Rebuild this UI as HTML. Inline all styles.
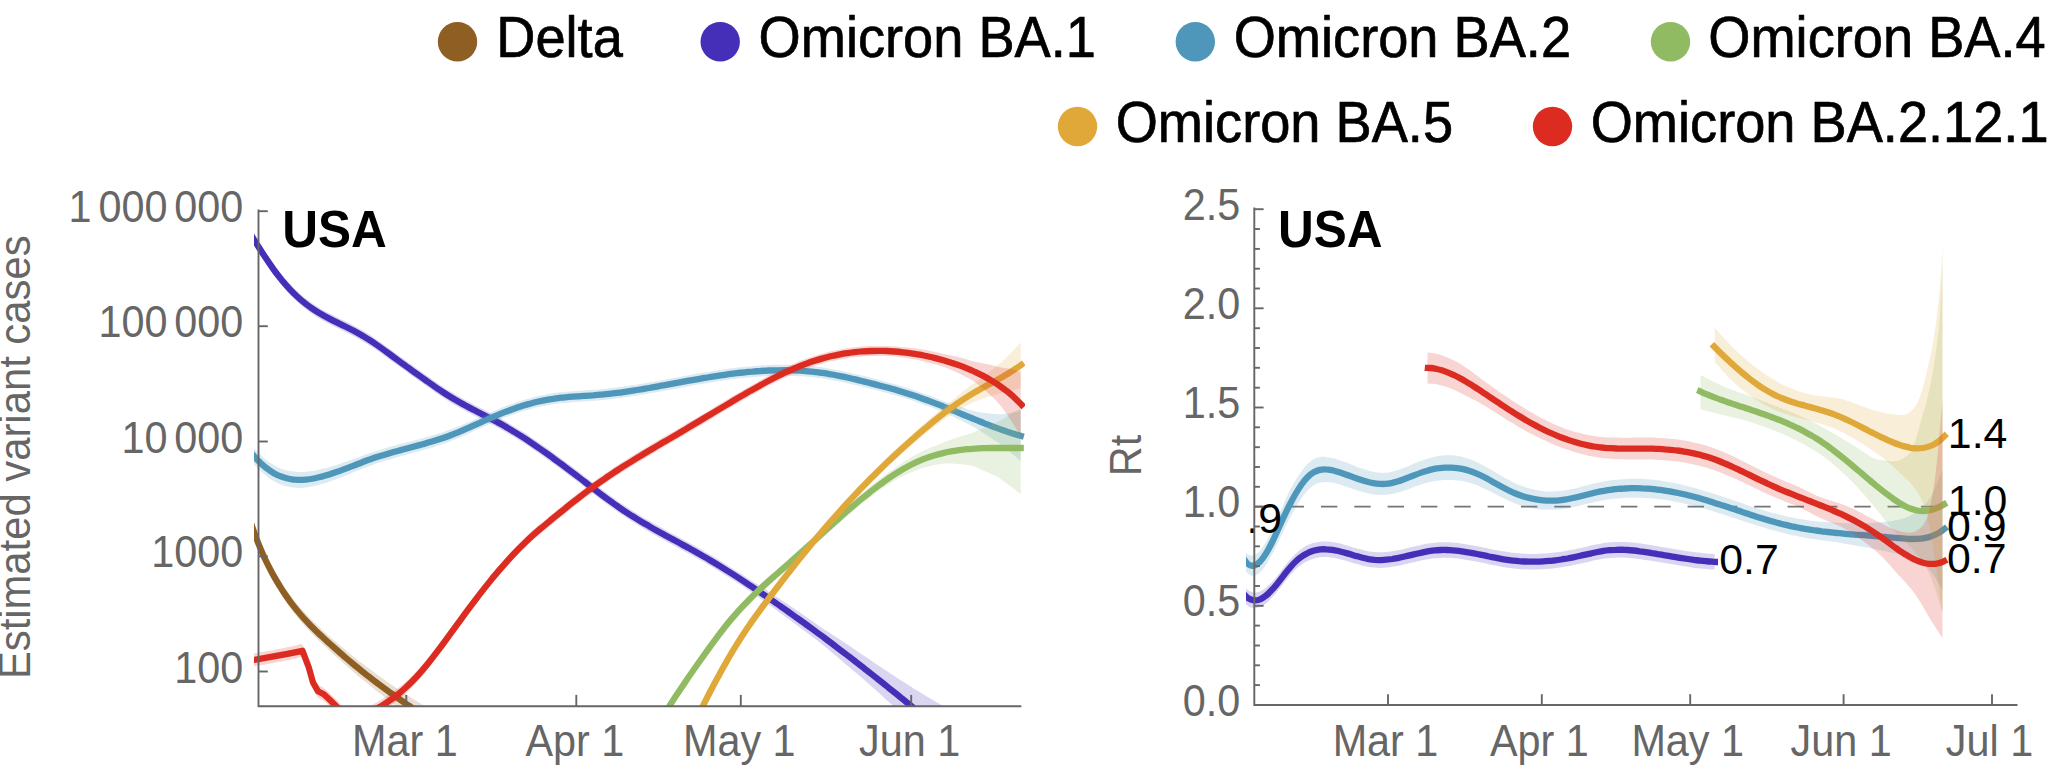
<!DOCTYPE html>
<html lang="en"><head><meta charset="utf-8"><title>Estimated variant cases and Rt - USA</title>
<style>html,body{margin:0;padding:0;background:#fff}body{width:2064px;height:779px;overflow:hidden}svg{display:block}text{font-family:'Liberation Sans', Arial, Helvetica, sans-serif}</style></head><body>
<svg width="2064" height="779" viewBox="0 0 2064 779">
<rect width="2064" height="779" fill="#fff"/>
<defs>
<clipPath id="cl"><rect x="254" y="196" width="771" height="511"/></clipPath>
<clipPath id="cr"><rect x="1246" y="196" width="800" height="509.5"/></clipPath>
</defs>
<g id="legend" fill="#000" stroke="#000" stroke-width="0.7" stroke-linejoin="round">
<circle cx="457.5" cy="41.7" r="19.7" fill="#8f5e22" stroke="none"/>
<text transform="translate(496.3 57.2) scale(0.951 1)" font-size="57">Delta</text>
<circle cx="720.2" cy="41.7" r="19.7" fill="#452fb9" stroke="none"/>
<text transform="translate(758.6 57.2) scale(0.951 1)" font-size="57">Omicron BA.1</text>
<circle cx="1195.3" cy="41.7" r="19.7" fill="#4f97ba" stroke="none"/>
<text transform="translate(1233.7 57.2) scale(0.951 1)" font-size="57">Omicron BA.2</text>
<circle cx="1670.5" cy="41.7" r="19.7" fill="#91bb62" stroke="none"/>
<text transform="translate(1708.3 57.2) scale(0.951 1)" font-size="57">Omicron BA.4</text>
<circle cx="1077.5" cy="126.5" r="19.7" fill="#e0a839" stroke="none"/>
<text transform="translate(1115.7 142) scale(0.951 1)" font-size="57">Omicron BA.5</text>
<circle cx="1552.5" cy="126.5" r="19.7" fill="#dc2c22" stroke="none"/>
<text transform="translate(1590.7 142) scale(0.951 1)" font-size="57">Omicron BA.2.12.1</text>
</g>
<g id="left-curves" clip-path="url(#cl)" fill="none" stroke-linejoin="round">
<path d="M250 514.2C251.3 517.9 255.3 529.5 258 536.2C260.7 543 263.3 549 266 554.6C268.7 560.2 271.3 565.3 274 570C276.7 574.8 279.3 579 282 583.1C284.7 587.3 287.3 591.1 290 594.7C292.7 598.3 295.3 601.7 298 604.9C300.7 608.1 303.3 611 306 613.9C308.7 616.8 311.3 619.4 314 622.1C316.7 624.7 319.3 627.2 322 629.7C324.7 632.1 327.3 634.6 330 636.9C332.7 639.3 335.3 641.5 338 643.8C340.7 646.1 343.3 648.3 346 650.5C348.7 652.7 351.3 654.8 354 656.9C356.7 659.1 359.3 661.2 362 663.2C364.7 665.3 367.3 667.3 370 669.3C372.7 671.3 375.3 673.3 378 675.2C380.7 677.1 383.3 679 386 680.9C388.7 682.8 391.3 684.6 394 686.4C396.7 688.2 399.3 690 402 691.8C404.7 693.6 407.3 695.3 410 697C412.7 698.7 415.3 700.4 418 702C420.7 703.7 424.3 705.9 426 706.9C427.7 707.9 427.7 707.9 428 708.1L428 728C427.7 727.8 427.7 727.8 426 726.7C424.3 725.6 420.7 723.1 418 721.3C415.3 719.5 412.7 717.7 410 715.8C407.3 713.9 404.7 712 402 710.1C399.3 708.2 396.7 706.2 394 704.3C391.3 702.3 388.7 700.3 386 698.3C383.3 696.2 380.7 694.2 378 692.1C375.3 690 372.7 687.9 370 685.7C367.3 683.5 364.7 681.4 362 679.1C359.3 676.9 356.7 674.7 354 672.4C351.3 670.1 348.7 667.8 346 665.4C343.3 663.1 340.7 660.7 338 658.3C335.3 655.9 332.7 653.4 330 650.9C327.3 648.4 324.7 646 322 643.5C319.3 640.9 316.7 638.4 314 635.7C311.3 633 308.7 630.2 306 627.3C303.3 624.4 300.7 621.4 298 618.1C295.3 614.8 292.7 611.4 290 607.7C287.3 604 284.7 600.1 282 595.9C279.3 591.8 276.7 587.5 274 582.6C271.3 577.8 268.7 572.7 266 567C263.3 561.3 260.7 555.2 258 548.4C255.3 541.6 251.3 529.9 250 526.2Z" fill="#8f5e22" fill-opacity="0.2" stroke="none"/>
<path d="M250 520.2C251 523.1 254 531.9 255.9 537.2C257.9 542.5 259.9 547.3 261.9 551.9C263.8 556.5 265.8 560.7 267.8 564.7C269.8 568.7 271.8 572.3 273.7 575.9C275.7 579.4 277.7 582.8 279.7 586C281.6 589.2 283.6 592.2 285.6 595.1C287.6 598 289.6 600.7 291.5 603.4C293.5 606 295.5 608.5 297.5 610.9C299.4 613.3 301.4 615.6 303.4 617.8C305.4 620 307.4 622.1 309.3 624.2C311.3 626.2 313.3 628.2 315.3 630.2C317.2 632.1 319.2 634 321.2 635.8C323.2 637.7 325.2 639.5 327.1 641.3C329.1 643.1 331.1 644.9 333.1 646.7C335 648.4 337 650.2 339 651.9C341 653.7 343 655.4 344.9 657.1C346.9 658.7 348.9 660.4 350.9 662.1C352.8 663.7 354.8 665.4 356.8 667C358.8 668.6 360.8 670.2 362.7 671.8C364.7 673.4 366.7 674.9 368.7 676.5C370.6 678 372.6 679.5 374.6 681.1C376.6 682.6 378.6 684.1 380.5 685.5C382.5 687 384.5 688.5 386.5 689.9C388.4 691.4 390.4 692.8 392.4 694.2C394.4 695.6 396.4 697 398.3 698.4C400.3 699.8 402.3 701.2 404.3 702.5C406.2 703.9 408.2 705.2 410.2 706.5C412.2 707.9 414.2 709.2 416.1 710.5C418.1 711.8 420.1 713 422.1 714.3C424 715.6 427 717.4 428 718.1" stroke="#8f5e22" stroke-width="6.3"/>
<path d="M250 227.9C251.3 230 255.3 236.6 258 240.8C260.7 245 263.3 249.2 266 253.2C268.7 257.2 271.3 261.1 274 264.7C276.7 268.3 279.3 271.8 282 275C284.7 278.3 287.3 281.3 290 284.1C292.7 287 295.3 289.6 298 292C300.7 294.5 303.3 296.7 306 298.8C308.7 300.8 311.3 302.7 314 304.5C316.7 306.2 319.3 307.8 322 309.4C324.7 310.9 327.3 312.3 330 313.7C332.7 315.1 335.3 316.4 338 317.8C340.7 319.1 343.3 320.4 346 321.7C348.7 323 351.3 324.3 354 325.7C356.7 327.2 359.3 328.6 362 330.2C364.7 331.7 367.3 333.4 370 335.1C372.7 336.8 375.3 338.7 378 340.5C380.7 342.4 383.3 344.3 386 346.2C388.7 348.2 391.3 350.1 394 352.1C396.7 354.1 399.3 356 402 358C404.7 359.9 407.3 361.8 410 363.8C412.7 365.7 415.3 367.6 418 369.5C420.7 371.4 423.3 373.3 426 375.1C428.7 377 431.3 378.9 434 380.8C436.7 382.6 439.3 384.4 442 386.2C444.7 388 447.3 389.7 450 391.3C452.7 393 455.3 394.6 458 396.1C460.7 397.6 463.3 399.1 466 400.5C468.7 401.9 471.3 403.3 474 404.7C476.7 406.1 479.3 407.4 482 408.8C484.7 410.1 487.3 411.5 490 412.9C492.7 414.3 495.3 415.7 498 417.1C500.7 418.6 503.3 420.1 506 421.6C508.7 423.1 511.3 424.7 514 426.4C516.7 428 519.3 429.6 522 431.3C524.7 433 527.3 434.8 530 436.6C532.7 438.3 535.3 440.1 538 442C540.7 443.8 543.3 445.7 546 447.6C548.7 449.5 551.3 451.4 554 453.3C556.7 455.3 559.3 457.2 562 459.2C564.7 461.2 567.3 463.2 570 465.2C572.7 467.2 575.3 469.2 578 471.3C580.7 473.3 583.3 475.4 586 477.4C588.7 479.4 591.3 481.5 594 483.5C596.7 485.6 599.3 487.6 602 489.6C604.7 491.6 607.3 493.5 610 495.5C612.7 497.4 615.3 499.3 618 501.2C620.7 503 623.3 504.9 626 506.6C628.7 508.4 631.3 510.1 634 511.8C636.7 513.4 639.3 515.1 642 516.7C644.7 518.3 647.3 519.8 650 521.3C652.7 522.9 655.3 524.4 658 525.8C660.7 527.3 663.3 528.8 666 530.2C668.7 531.7 671.3 533.1 674 534.6C676.7 536 679.3 537.5 682 538.9C684.7 540.4 687.3 541.8 690 543.3C692.7 544.8 695.3 546.3 698 547.8C700.7 549.3 703.3 550.8 706 552.4C708.7 553.9 711.3 555.5 714 557.1C716.7 558.7 719.3 560.4 722 562C724.7 563.7 727.3 565.3 730 567C732.7 568.7 735.3 570.4 738 572.1C740.7 573.8 743.3 575.5 746 577.2C748.7 578.8 751.3 580.5 754 582.2C756.7 583.9 759.3 585.6 762 587.3C764.7 589 767.3 590.8 770 592.5C772.7 594.3 775.3 596 778 597.8C780.7 599.6 783.3 601.4 786 603.1C788.7 604.9 791.3 606.7 794 608.6C796.7 610.4 799.3 612.2 802 614C804.7 615.9 807.3 617.7 810 619.6C812.7 621.5 815.3 623.4 818 625.2C820.7 627 823.3 628.8 826 630.5C828.7 632.2 831.3 634 834 635.7C836.7 637.4 839.3 639.2 842 641C844.7 642.7 847.3 644.5 850 646.3C852.7 648.1 855.3 649.9 858 651.7C860.7 653.5 863.3 655.3 866 657.1C868.7 659 871.3 660.8 874 662.6C876.7 664.5 879.3 666.3 882 668.1C884.7 669.8 887.3 671.5 890 673.2C892.7 674.9 895.3 676.6 898 678.4C900.7 680.1 903.3 681.9 906 683.6C908.7 685.3 911.3 687 914 688.7C916.7 690.3 919.3 691.8 922 693.4C924.7 695 927.3 696.6 930 698.2C932.7 699.8 935.3 701.4 938 703.1C940.7 704.7 943.3 706.3 946 707.9C948.7 709.5 951.7 711.2 954 712.6C956.3 714 959 715.5 960 716.1L960 771.1C959 770.1 956.3 767.5 954 765.2C951.7 762.9 948.7 759.9 946 757.3C943.3 754.7 940.7 752 938 749.4C935.3 746.7 932.7 744.1 930 741.5C927.3 738.9 924.7 736.2 922 733.6C919.3 731 916.7 728.4 914 725.8C911.3 723.2 908.7 720.7 906 718.2C903.3 715.6 900.7 713.1 898 710.6C895.3 708.1 892.7 705.6 890 703.1C887.3 700.6 884.7 698.1 882 695.7C879.3 693.2 876.7 690.9 874 688.5C871.3 686.2 868.7 683.9 866 681.6C863.3 679.2 860.7 676.9 858 674.6C855.3 672.4 852.7 670.1 850 667.8C847.3 665.5 844.7 663.3 842 661C839.3 658.7 836.7 656.5 834 654.3C831.3 652 828.7 649.8 826 647.6C823.3 645.4 820.7 643.2 818 641.1C815.3 639 812.7 637 810 635C807.3 632.9 804.7 630.9 802 628.9C799.3 626.9 796.7 624.9 794 622.9C791.3 621 788.7 619 786 617C783.3 615.1 780.7 613.1 778 611.2C775.3 609.2 772.7 607.3 770 605.4C767.3 603.5 764.7 601.6 762 599.7C759.3 597.8 756.7 595.9 754 594.1C751.3 592.2 748.7 590.4 746 588.5C743.3 586.7 740.7 584.9 738 583.1C735.3 581.4 732.7 579.7 730 578C727.3 576.3 724.7 574.6 722 573C719.3 571.3 716.7 569.7 714 568.1C711.3 566.5 708.7 564.9 706 563.3C703.3 561.8 700.7 560.2 698 558.7C695.3 557.2 692.7 555.7 690 554.2C687.3 552.8 684.7 551.3 682 549.9C679.3 548.4 676.7 547 674 545.5C671.3 544.1 668.7 542.6 666 541.2C663.3 539.7 660.7 538.2 658 536.7C655.3 535.3 652.7 533.8 650 532.2C647.3 530.7 644.7 529.1 642 527.5C639.3 525.9 636.7 524.3 634 522.6C631.3 521 628.7 519.3 626 517.5C623.3 515.7 620.7 513.9 618 512C615.3 510.2 612.7 508.3 610 506.3C607.3 504.4 604.7 502.4 602 500.4C599.3 498.4 596.7 496.4 594 494.3C591.3 492.3 588.7 490.3 586 488.2C583.3 486.2 580.7 484.1 578 482.1C575.3 480 572.7 478 570 476C567.3 474 564.7 472 562 470C559.3 468 556.7 466 554 464.1C551.3 462.2 548.7 460.2 546 458.3C543.3 456.4 540.7 454.6 538 452.7C535.3 450.9 532.7 449.1 530 447.3C527.3 445.5 524.7 443.8 522 442.1C519.3 440.4 516.7 438.7 514 437.1C511.3 435.5 508.7 433.9 506 432.3C503.3 430.8 500.7 429.3 498 427.8C495.3 426.4 492.7 425 490 423.6C487.3 422.2 484.7 420.8 482 419.5C479.3 418.1 476.7 416.7 474 415.4C471.3 414 468.7 412.6 466 411.2C463.3 409.7 460.7 408.3 458 406.7C455.3 405.2 452.7 403.6 450 402C447.3 400.3 444.7 398.6 442 396.8C439.3 395.1 436.7 393.2 434 391.4C431.3 389.5 428.7 387.6 426 385.8C423.3 383.9 420.7 382 418 380.1C415.3 378.2 412.7 376.3 410 374.4C407.3 372.4 404.7 370.5 402 368.6C399.3 366.6 396.7 364.6 394 362.7C391.3 360.7 388.7 358.7 386 356.8C383.3 354.9 380.7 352.9 378 351.1C375.3 349.2 372.7 347.4 370 345.7C367.3 343.9 364.7 342.3 362 340.7C359.3 339.1 356.7 337.7 354 336.3C351.3 334.9 348.7 333.5 346 332.2C343.3 330.9 340.7 329.6 338 328.3C335.3 326.9 332.7 325.6 330 324.2C327.3 322.8 324.7 321.4 322 319.9C319.3 318.3 316.7 316.7 314 314.9C311.3 313.2 308.7 311.3 306 309.2C303.3 307.2 300.7 304.9 298 302.5C295.3 300.1 292.7 297.4 290 294.6C287.3 291.8 284.7 288.7 282 285.5C279.3 282.2 276.7 278.8 274 275.1C271.3 271.5 268.7 267.6 266 263.6C263.3 259.6 260.7 255.4 258 251.2C255.3 247 251.3 240.4 250 238.3Z" fill="#452fb9" fill-opacity="0.2" stroke="none"/>
<path d="M250 233.1C251.3 235.2 255.3 241.8 258 246C260.6 250.2 263.3 254.4 266 258.3C268.6 262.3 271.3 266.2 273.9 269.8C276.6 273.5 279.3 276.9 281.9 280.2C284.6 283.4 287.2 286.4 289.9 289.3C292.5 292.1 295.2 294.7 297.9 297.2C300.5 299.6 303.2 301.8 305.8 303.9C308.5 306 311.2 307.8 313.8 309.6C316.5 311.4 319.1 313 321.8 314.5C324.5 316.1 327.1 317.5 329.8 318.9C332.4 320.3 335.1 321.6 337.8 322.9C340.4 324.2 343.1 325.5 345.7 326.8C348.4 328.1 351 329.4 353.7 330.8C356.4 332.3 359 333.7 361.7 335.2C364.3 336.8 367 338.4 369.7 340.2C372.3 341.9 375 343.7 377.6 345.5C380.3 347.4 383 349.3 385.6 351.2C388.3 353.2 390.9 355.1 393.6 357.1C396.3 359.1 398.9 361 401.6 363C404.2 364.9 406.9 366.8 409.6 368.7C412.2 370.7 414.9 372.6 417.5 374.4C420.2 376.3 422.8 378.2 425.5 380.1C428.2 382 430.8 383.9 433.5 385.7C436.1 387.6 438.8 389.4 441.5 391.2C444.1 392.9 446.8 394.7 449.4 396.3C452.1 398 454.8 399.6 457.4 401.1C460.1 402.6 462.7 404.1 465.4 405.5C468.1 406.9 470.7 408.3 473.4 409.7C476 411.1 478.7 412.4 481.3 413.8C484 415.1 486.7 416.5 489.3 417.9C492 419.3 494.6 420.6 497.3 422.1C500 423.5 502.6 425 505.3 426.5C507.9 428.1 510.6 429.6 513.3 431.3C515.9 432.9 518.6 434.5 521.2 436.2C523.9 437.9 526.6 439.6 529.2 441.4C531.9 443.2 534.5 445 537.2 446.8C539.9 448.6 542.5 450.5 545.2 452.4C547.8 454.2 550.5 456.1 553.1 458.1C555.8 460 558.5 462 561.1 463.9C563.8 465.9 566.4 467.9 569.1 469.9C571.8 471.9 574.4 473.9 577.1 476C579.7 478 582.4 480.1 585.1 482.1C587.7 484.1 590.4 486.2 593 488.2C595.7 490.2 598.4 492.3 601 494.3C603.7 496.2 606.3 498.2 609 500.2C611.6 502.1 614.3 504 617 505.9C619.6 507.8 622.3 509.6 624.9 511.4C627.6 513.1 630.3 514.9 632.9 516.5C635.6 518.2 638.2 519.9 640.9 521.5C643.6 523 646.2 524.6 648.9 526.1C651.5 527.7 654.2 529.2 656.9 530.7C659.5 532.1 662.2 533.6 664.8 535.1C667.5 536.5 670.1 538 672.8 539.4C675.5 540.8 678.1 542.3 680.8 543.7C683.4 545.2 686.1 546.6 688.8 548.1C691.4 549.6 694.1 551 696.7 552.5C699.4 554 702.1 555.5 704.7 557.1C707.4 558.6 710 560.2 712.7 561.8C715.4 563.4 718 565 720.7 566.7C723.3 568.3 726 570 728.7 571.7C731.3 573.3 734 575 736.6 576.7C739.3 578.5 741.9 580.2 744.6 581.9C747.3 583.7 749.9 585.4 752.6 587.2C755.2 589 757.9 590.7 760.6 592.5C763.2 594.3 765.9 596.1 768.5 598C771.2 599.8 773.9 601.6 776.5 603.5C779.2 605.3 781.8 607.2 784.5 609C787.2 610.9 789.8 612.8 792.5 614.7C795.1 616.5 797.8 618.5 800.4 620.4C803.1 622.3 805.8 624.2 808.4 626.1C811.1 628.1 813.7 630 816.4 632C819.1 633.9 821.7 635.9 824.4 637.9C827 639.9 829.7 641.9 832.4 643.9C835 645.9 837.7 647.9 840.3 649.9C843 651.9 845.7 654 848.3 656C851 658 853.6 660.1 856.3 662.2C859 664.2 861.6 666.3 864.3 668.4C866.9 670.4 869.6 672.5 872.2 674.6C874.9 676.7 877.6 678.9 880.2 681C882.9 683.1 885.5 685.2 888.2 687.4C890.9 689.5 893.5 691.6 896.2 693.8C898.8 696 901.5 698.1 904.2 700.3C906.8 702.5 909.5 704.7 912.1 706.8C914.8 709 917.5 711.2 920.1 713.4C922.8 715.6 925.4 717.9 928.1 720.1C930.7 722.3 933.4 724.5 936.1 726.8C938.7 729 941.4 731.3 944 733.5C946.7 735.8 949.4 738 952 740.3C954.7 742.6 958.7 746 960 747.1" stroke="#452fb9" stroke-width="6.3"/>
<path d="M250 443.4C251.3 445 255.3 449.9 258 452.6C260.7 455.4 263.3 457.7 266 459.8C268.7 461.9 271.3 463.7 274 465.2C276.7 466.7 279.3 467.9 282 468.9C284.7 469.8 287.3 470.6 290 471.1C292.7 471.6 295.3 471.8 298 471.9C300.7 472.1 303.3 472 306 471.8C308.7 471.6 311.3 471.3 314 470.8C316.7 470.4 319.3 469.8 322 469.1C324.7 468.5 327.3 467.7 330 466.9C332.7 466.1 335.3 465.3 338 464.4C340.7 463.5 343.3 462.6 346 461.7C348.7 460.7 351.3 459.8 354 458.8C356.7 457.9 359.3 456.9 362 455.9C364.7 455 367.3 454 370 453C372.7 452.1 375.3 451.2 378 450.4C380.7 449.5 383.3 448.7 386 447.9C388.7 447.1 391.3 446.4 394 445.7C396.7 445 399.3 444.3 402 443.6C404.7 442.9 407.3 442.2 410 441.5C412.7 440.8 415.3 440.1 418 439.4C420.7 438.7 423.3 438 426 437.2C428.7 436.5 431.3 435.7 434 434.9C436.7 434.1 439.3 433.3 442 432.4C444.7 431.6 447.3 430.6 450 429.6C452.7 428.7 455.3 427.6 458 426.6C460.7 425.5 463.3 424.3 466 423.2C468.7 422.1 471.3 420.9 474 419.7C476.7 418.5 479.3 417.3 482 416.2C484.7 415 487.3 413.8 490 412.7C492.7 411.5 495.3 410.4 498 409.3C500.7 408.2 503.3 407.1 506 406.1C508.7 405.1 511.3 404.1 514 403.2C516.7 402.2 519.3 401.3 522 400.5C524.7 399.7 527.3 398.9 530 398.2C532.7 397.4 535.3 396.8 538 396.1C540.7 395.5 543.3 395 546 394.5C548.7 394 551.3 393.5 554 393.1C556.7 392.8 559.3 392.4 562 392.1C564.7 391.8 567.3 391.6 570 391.4C572.7 391.2 575.3 391 578 390.8C580.7 390.6 583.3 390.4 586 390.2C588.7 390 591.3 389.9 594 389.7C596.7 389.5 599.3 389.3 602 389C604.7 388.8 607.3 388.5 610 388.2C612.7 387.9 615.3 387.6 618 387.2C620.7 386.9 623.3 386.5 626 386.2C628.7 385.8 631.3 385.4 634 385C636.7 384.6 639.3 384.1 642 383.7C644.7 383.2 647.3 382.8 650 382.3C652.7 381.9 655.3 381.4 658 380.9C660.7 380.4 663.3 379.9 666 379.4C668.7 379 671.3 378.5 674 378C676.7 377.5 679.3 377 682 376.5C684.7 376 687.3 375.5 690 375C692.7 374.5 695.3 374.1 698 373.6C700.7 373.1 703.3 372.7 706 372.2C708.7 371.8 711.3 371.3 714 370.9C716.7 370.5 719.3 370.1 722 369.7C724.7 369.3 727.3 368.9 730 368.5C732.7 368.2 735.3 367.9 738 367.5C740.7 367.2 743.3 366.9 746 366.7C748.7 366.4 751.3 366.2 754 365.9C756.7 365.7 759.3 365.5 762 365.4C764.7 365.2 767.3 365.1 770 365C772.7 364.9 775.3 364.8 778 364.8C780.7 364.7 783.3 364.7 786 364.7C788.7 364.8 791.3 364.8 794 364.9C796.7 365 799.3 365.1 802 365.3C804.7 365.5 807.3 365.7 810 366C812.7 366.2 815.3 366.5 818 366.8C820.7 367.2 823.3 367.6 826 368C828.7 368.4 831.3 368.9 834 369.4C836.7 369.8 839.3 370.4 842 370.9C844.7 371.5 847.3 372.1 850 372.7C852.7 373.3 855.3 373.9 858 374.6C860.7 375.2 863.3 375.9 866 376.5C868.7 377.2 871.3 377.9 874 378.6C876.7 379.3 879.3 380 882 380.7C884.7 381.4 887.3 382.1 890 382.9C892.7 383.6 895.3 384.4 898 385.1C900.7 385.9 903.3 386.7 906 387.6C908.7 388.4 911.3 389.3 914 390.1C916.7 391 919.3 392 922 392.9C924.7 393.8 927.3 394.8 930 395.8C932.7 396.8 935.3 397.9 938 398.9C940.7 399.9 943.3 401.1 946 402C948.7 403 951.3 403.7 954 404.6C956.7 405.5 959.3 406.4 962 407.2C964.7 408.1 967.3 409.1 970 409.9C972.7 410.6 975.3 411.4 978 411.9C980.7 412.4 983.3 412.7 986 413C988.7 413.4 991.3 413.8 994 414C996.7 414.2 999.3 414.5 1002 414.3C1004.7 414.2 1007.3 413.5 1010 413C1012.7 412.5 1016.2 411.8 1018 411.4C1019.8 411 1020.2 410.9 1020.7 410.8L1020.7 460.8C1020.2 460.4 1019.8 460.1 1018 458.7C1016.2 457.2 1012.7 454.3 1010 452.1C1007.3 449.9 1004.7 447.4 1002 445.3C999.3 443.3 996.7 441.6 994 439.9C991.3 438.1 988.7 436.5 986 434.7C983.3 433 980.7 431.1 978 429.5C975.3 427.9 972.7 426.4 970 425C967.3 423.6 964.7 422.4 962 421.1C959.3 419.8 956.7 418.4 954 417.1C951.3 415.8 948.7 414.4 946 413.2C943.3 412 940.7 411 938 409.9C935.3 408.8 932.7 407.8 930 406.8C927.3 405.8 924.7 404.8 922 403.9C919.3 403 916.7 402 914 401.1C911.3 400.3 908.7 399.4 906 398.6C903.3 397.7 900.7 396.9 898 396.1C895.3 395.4 892.7 394.6 890 393.9C887.3 393.1 884.7 392.4 882 391.7C879.3 391 876.7 390.3 874 389.6C871.3 388.9 868.7 388.2 866 387.5C863.3 386.9 860.7 386.2 858 385.6C855.3 384.9 852.7 384.3 850 383.7C847.3 383.1 844.7 382.5 842 381.9C839.3 381.4 836.7 380.8 834 380.4C831.3 379.9 828.7 379.4 826 379C823.3 378.6 820.7 378.2 818 377.8C815.3 377.5 812.7 377.2 810 377C807.3 376.7 804.7 376.5 802 376.3C799.3 376.1 796.7 376 794 375.9C791.3 375.8 788.7 375.8 786 375.7C783.3 375.7 780.7 375.7 778 375.8C775.3 375.8 772.7 375.9 770 376C767.3 376.1 764.7 376.2 762 376.4C759.3 376.5 756.7 376.7 754 376.9C751.3 377.2 748.7 377.4 746 377.7C743.3 377.9 740.7 378.2 738 378.5C735.3 378.9 732.7 379.2 730 379.5C727.3 379.9 724.7 380.3 722 380.7C719.3 381.1 716.7 381.5 714 381.9C711.3 382.3 708.7 382.8 706 383.2C703.3 383.7 700.7 384.1 698 384.6C695.3 385.1 692.7 385.5 690 386C687.3 386.5 684.7 387 682 387.5C679.3 388 676.7 388.5 674 389C671.3 389.5 668.7 390 666 390.4C663.3 390.9 660.7 391.4 658 391.9C655.3 392.4 652.7 392.9 650 393.3C647.3 393.8 644.7 394.2 642 394.7C639.3 395.1 636.7 395.6 634 396C631.3 396.4 628.7 396.8 626 397.2C623.3 397.5 620.7 397.9 618 398.2C615.3 398.6 612.7 398.9 610 399.2C607.3 399.5 604.7 399.8 602 400C599.3 400.3 596.7 400.5 594 400.7C591.3 400.9 588.7 401 586 401.2C583.3 401.4 580.7 401.6 578 401.8C575.3 402 572.7 402.2 570 402.4C567.3 402.6 564.7 402.8 562 403.1C559.3 403.4 556.7 403.8 554 404.1C551.3 404.5 548.7 405 546 405.5C543.3 406 540.7 406.5 538 407.1C535.3 407.8 532.7 408.4 530 409.2C527.3 409.9 524.7 410.7 522 411.5C519.3 412.3 516.7 413.2 514 414.2C511.3 415.1 508.7 416.1 506 417.1C503.3 418.1 500.7 419.2 498 420.3C495.3 421.4 492.7 422.6 490 423.8C487.3 425 484.7 426.2 482 427.4C479.3 428.6 476.7 429.9 474 431.1C471.3 432.3 468.7 433.5 466 434.7C463.3 435.9 460.7 437 458 438.2C455.3 439.3 452.7 440.3 450 441.4C447.3 442.4 444.7 443.3 442 444.3C439.3 445.2 436.7 446 434 446.9C431.3 447.7 428.7 448.5 426 449.3C423.3 450.1 420.7 450.8 418 451.6C415.3 452.3 412.7 453 410 453.8C407.3 454.5 404.7 455.2 402 456C399.3 456.7 396.7 457.4 394 458.2C391.3 459 388.7 459.7 386 460.6C383.3 461.4 380.7 462.2 378 463.1C375.3 464 372.7 464.9 370 465.9C367.3 466.9 364.7 467.9 362 468.9C359.3 469.9 356.7 471 354 472.1C351.3 473.2 348.7 474.3 346 475.4C343.3 476.4 340.7 477.5 338 478.5C335.3 479.5 332.7 480.5 330 481.4C327.3 482.3 324.7 483.2 322 484C319.3 484.8 316.7 485.5 314 486.1C311.3 486.7 308.7 487.2 306 487.5C303.3 487.8 300.7 488 298 487.9C295.3 487.9 292.7 487.6 290 487.1C287.3 486.6 284.7 485.8 282 484.9C279.3 483.9 276.7 482.7 274 481.2C271.3 479.7 268.7 477.9 266 475.8C263.3 473.7 260.7 471.4 258 468.6C255.3 465.9 251.3 461 250 459.4Z" fill="#4f97ba" fill-opacity="0.2" stroke="none"/>
<path d="M250 451.4C251.3 453 255.3 457.9 258 460.6C260.6 463.3 263.3 465.7 266 467.8C268.6 469.9 271.3 471.6 273.9 473.2C276.6 474.7 279.3 475.9 281.9 476.8C284.6 477.8 287.2 478.5 289.9 479C292.5 479.6 295.2 479.8 297.9 479.9C300.5 480 303.2 479.9 305.8 479.7C308.5 479.5 311.2 479 313.8 478.5C316.5 478 319.1 477.3 321.8 476.6C324.5 475.9 327.1 475.1 329.8 474.3C332.4 473.4 335.1 472.5 337.8 471.6C340.4 470.6 343.1 469.6 345.7 468.6C348.4 467.6 351 466.6 353.7 465.6C356.4 464.6 359 463.5 361.7 462.5C364.3 461.5 367 460.5 369.7 459.6C372.3 458.6 375 457.7 377.6 456.8C380.3 456 383 455.2 385.6 454.4C388.3 453.6 390.9 452.8 393.6 452C396.3 451.3 398.9 450.6 401.6 449.9C404.2 449.2 406.9 448.5 409.5 447.7C412.2 447 414.9 446.3 417.5 445.6C420.2 444.9 422.8 444.2 425.5 443.4C428.2 442.7 430.8 441.9 433.5 441.1C436.1 440.3 438.8 439.4 441.5 438.5C444.1 437.6 446.8 436.7 449.4 435.7C452.1 434.7 454.8 433.7 457.4 432.6C460.1 431.5 462.7 430.4 465.4 429.2C468 428.1 470.7 426.9 473.4 425.7C476 424.5 478.7 423.3 481.3 422.1C484 420.9 486.7 419.7 489.3 418.5C492 417.3 494.6 416.2 497.3 415.1C500 414 502.6 412.9 505.3 411.9C507.9 410.8 510.6 409.8 513.3 408.9C515.9 408 518.6 407.1 521.2 406.2C523.9 405.4 526.5 404.6 529.2 403.9C531.9 403.1 534.5 402.4 537.2 401.8C539.8 401.2 542.5 400.6 545.2 400.1C547.8 399.6 550.5 399.1 553.1 398.8C555.8 398.4 558.5 398 561.1 397.7C563.8 397.4 566.4 397.2 569.1 396.9C571.8 396.7 574.4 396.5 577.1 396.3C579.7 396.1 582.4 396 585 395.8C587.7 395.6 590.4 395.4 593 395.3C595.7 395.1 598.3 394.9 601 394.6C603.7 394.4 606.3 394.1 609 393.8C611.6 393.5 614.3 393.2 617 392.9C619.6 392.6 622.3 392.2 624.9 391.8C627.6 391.4 630.3 391 632.9 390.6C635.6 390.2 638.2 389.8 640.9 389.4C643.5 388.9 646.2 388.5 648.9 388C651.5 387.6 654.2 387.1 656.8 386.6C659.5 386.1 662.2 385.6 664.8 385.2C667.5 384.7 670.1 384.2 672.8 383.7C675.5 383.2 678.1 382.7 680.8 382.2C683.4 381.7 686.1 381.2 688.8 380.7C691.4 380.3 694.1 379.8 696.7 379.3C699.4 378.8 702 378.4 704.7 377.9C707.4 377.5 710 377 712.7 376.6C715.3 376.2 718 375.8 720.7 375.4C723.3 375 726 374.6 728.6 374.2C731.3 373.9 734 373.5 736.6 373.2C739.3 372.9 741.9 372.6 744.6 372.3C747.3 372 749.9 371.8 752.6 371.6C755.2 371.3 757.9 371.1 760.5 371C763.2 370.8 765.9 370.6 768.5 370.5C771.2 370.4 773.8 370.3 776.5 370.3C779.2 370.2 781.8 370.2 784.5 370.2C787.1 370.2 789.8 370.3 792.5 370.3C795.1 370.4 797.8 370.5 800.4 370.7C803.1 370.9 805.8 371.1 808.4 371.3C811.1 371.5 813.7 371.8 816.4 372.1C819 372.4 821.7 372.8 824.4 373.2C827 373.6 829.7 374.1 832.3 374.5C835 375 837.7 375.5 840.3 376.1C843 376.6 845.6 377.2 848.3 377.8C851 378.4 853.6 379 856.3 379.6C858.9 380.3 861.6 380.9 864.3 381.6C866.9 382.2 869.6 382.9 872.2 383.6C874.9 384.3 877.5 385 880.2 385.7C882.9 386.4 885.5 387.1 888.2 387.8C890.8 388.6 893.5 389.3 896.2 390.1C898.8 390.9 901.5 391.7 904.1 392.5C906.8 393.3 909.5 394.1 912.1 395C914.8 395.9 917.4 396.8 920.1 397.7C922.8 398.6 925.4 399.6 928.1 400.6C930.7 401.6 933.4 402.6 936 403.6C938.7 404.7 941.4 405.7 944 406.8C946.7 407.9 949.3 408.9 952 410C954.7 411.1 957.3 412.2 960 413.3C962.6 414.4 965.3 415.5 968 416.6C970.6 417.7 973.3 418.8 975.9 419.9C978.6 421 981.3 422 983.9 423.1C986.6 424.1 989.2 425.2 991.9 426.2C994.5 427.2 997.2 428.1 999.9 429.1C1002.5 430 1005.2 431 1007.8 431.9C1010.5 432.7 1013.2 433.6 1015.8 434.4C1018.5 435.2 1022.5 436.3 1023.8 436.7" stroke="#4f97ba" stroke-width="6.3"/>
<path d="M660 717.1C661.3 714.8 665.3 708 668 703.7C670.7 699.4 673.3 695.3 676 691.2C678.7 687.1 681.3 683.2 684 679.2C686.7 675.3 689.3 671.5 692 667.7C694.7 663.9 697.3 660.1 700 656.3C702.7 652.5 705.3 648.7 708 645C710.7 641.3 713.3 637.5 716 633.9C718.7 630.3 721.3 626.8 724 623.4C726.7 620 729.3 616.8 732 613.6C734.7 610.5 737.3 607.5 740 604.6C742.7 601.7 745.3 598.9 748 596.1C750.7 593.4 753.3 590.8 756 588.2C758.7 585.6 761.3 583.2 764 580.7C766.7 578.2 769.3 575.8 772 573.4C774.7 571.1 777.3 568.7 780 566.4C782.7 564 785.3 561.7 788 559.4C790.7 557 793.3 554.7 796 552.3C798.7 549.9 801.3 547.5 804 545.1C806.7 542.7 809.3 540.3 812 537.9C814.7 535.5 817.3 533 820 530.6C822.7 528.1 825.3 525.7 828 523.3C830.7 520.9 833.3 518.4 836 516C838.7 513.7 841.3 511.3 844 508.9C846.7 506.6 849.3 504.2 852 501.9C854.7 499.6 857.3 497.4 860 495.1C862.7 492.9 865.3 490.5 868 488.3C870.7 486.1 873.3 483.9 876 481.8C878.7 479.7 881.3 477.6 884 475.6C886.7 473.6 889.3 471.7 892 469.9C894.7 468 897.3 466.3 900 464.5C902.7 462.8 905.3 460.9 908 459.3C910.7 457.6 913.3 456 916 454.6C918.7 453.1 921.3 451.7 924 450.4C926.7 449.2 929.3 448 932 446.9C934.7 445.8 937.3 444.9 940 443.9C942.7 442.8 945.3 441.7 948 440.7C950.7 439.7 953.3 438.8 956 438C958.7 437.1 961.3 436.4 964 435.6C966.7 434.8 969.3 434.1 972 433.1C974.7 432 977.3 430.6 980 429.4C982.7 428.3 985.3 427.1 988 426C990.7 424.9 993.3 424.1 996 422.8C998.7 421.5 1001.3 419.8 1004 418.3C1006.7 416.7 1009.3 415 1012 413.4C1014.7 411.7 1018.5 409.4 1020 408.5C1021.5 407.6 1020.6 408.1 1020.7 408L1020.7 494C1020.6 494 1021.5 494.6 1020 493.5C1018.5 492.4 1014.7 489.5 1012 487.5C1009.3 485.5 1006.7 483.4 1004 481.5C1001.3 479.6 998.7 477.6 996 476.1C993.3 474.6 990.7 473.6 988 472.5C985.3 471.3 982.7 470.1 980 469C977.3 467.9 974.7 466.5 972 465.8C969.3 465 966.7 464.7 964 464.4C961.3 464 958.7 463.9 956 463.8C953.3 463.7 950.7 463.6 948 463.6C945.3 463.6 942.7 463.6 940 463.9C937.3 464.2 934.7 464.9 932 465.5C929.3 466.1 926.7 466.8 924 467.6C921.3 468.5 918.7 469.4 916 470.4C913.3 471.4 910.7 472.5 908 473.7C905.3 474.9 902.7 476.1 900 477.5C897.3 478.9 894.7 480.6 892 482.3C889.3 483.9 886.7 485.6 884 487.4C881.3 489.2 878.7 491.1 876 493C873.3 494.9 870.7 496.9 868 498.9C865.3 500.9 862.7 503 860 505.1C857.3 507.3 854.7 509.6 852 511.9C849.3 514.2 846.7 516.5 844 518.8C841.3 521.2 838.7 523.5 836 525.9C833.3 528.3 830.7 530.7 828 533.1C825.3 535.5 822.7 538 820 540.4C817.3 542.8 814.7 545.2 812 547.6C809.3 550.1 806.7 552.5 804 554.9C801.3 557.2 798.7 559.6 796 562C793.3 564.3 790.7 566.7 788 569C785.3 571.3 782.7 573.6 780 576C777.3 578.3 774.7 580.6 772 583C769.3 585.4 766.7 587.8 764 590.2C761.3 592.7 758.7 595.1 756 597.7C753.3 600.3 750.7 602.9 748 605.6C745.3 608.3 742.7 611.1 740 614C737.3 616.9 734.7 619.9 732 623C729.3 626.1 726.7 629.4 724 632.7C721.3 636.1 718.7 639.6 716 643.2C713.3 646.8 710.7 650.5 708 654.2C705.3 658 702.7 661.7 700 665.5C697.3 669.3 694.7 673 692 676.8C689.3 680.7 686.7 684.5 684 688.4C681.3 692.3 678.7 696.2 676 700.3C673.3 704.3 670.7 708.5 668 712.8C665.3 717.1 661.3 723.9 660 726.1Z" fill="#91bb62" fill-opacity="0.2" stroke="none"/>
<path d="M660 721.6C661.3 719.3 665.4 712.5 668.1 708.1C670.8 703.8 673.5 699.6 676.2 695.5C678.9 691.4 681.6 687.4 684.3 683.4C686.9 679.5 689.6 675.6 692.3 671.8C695 667.9 697.7 664.1 700.4 660.3C703.1 656.5 705.8 652.7 708.5 648.9C711.2 645.1 713.9 641.4 716.6 637.8C719.3 634.2 722 630.6 724.7 627.2C727.4 623.8 730.1 620.5 732.8 617.4C735.5 614.3 738.1 611.3 740.8 608.3C743.5 605.4 746.2 602.6 748.9 599.9C751.6 597.2 754.3 594.5 757 592C759.7 589.4 762.4 586.9 765.1 584.4C767.8 582 770.5 579.6 773.2 577.2C775.9 574.8 778.6 572.4 781.3 570.1C784 567.7 786.7 565.4 789.4 563C792 560.6 794.7 558.3 797.4 555.9C800.1 553.5 802.8 551.1 805.5 548.6C808.2 546.2 810.9 543.8 813.6 541.3C816.3 538.9 819 536.4 821.7 533.9C824.4 531.5 827.1 529 829.8 526.6C832.5 524.2 835.2 521.7 837.9 519.3C840.6 516.9 843.2 514.5 845.9 512.1C848.6 509.8 851.3 507.4 854 505.2C856.7 502.9 859.4 500.6 862.1 498.4C864.8 496.2 867.5 494 870.2 491.9C872.9 489.7 875.6 487.7 878.3 485.7C881 483.7 883.7 481.7 886.4 479.8C889.1 478 891.8 476.1 894.4 474.4C897.1 472.7 899.8 471 902.5 469.5C905.2 467.9 907.9 466.4 910.6 465C913.3 463.7 916 462.4 918.7 461.2C921.4 460 924.1 458.9 926.8 457.9C929.5 456.9 932.2 456 934.9 455.2C937.6 454.4 940.3 453.7 943 453.1C945.7 452.4 948.3 451.9 951 451.4C953.7 450.9 956.4 450.5 959.1 450.1C961.8 449.8 964.5 449.5 967.2 449.2C969.9 448.9 972.6 448.8 975.3 448.6C978 448.4 980.7 448.3 983.4 448.2C986.1 448.1 988.8 448.1 991.5 448C994.2 448 996.9 448 999.5 448C1002.2 448 1004.9 448 1007.6 448C1010.3 448 1013 448 1015.7 448C1018.4 448 1022.5 448 1023.8 448" stroke="#91bb62" stroke-width="6.3"/>
<path d="M695 717.4C696.3 714.7 700.3 706.5 703 701.2C705.7 695.9 708.3 690.7 711 685.6C713.7 680.4 716.3 675.4 719 670.5C721.7 665.6 724.3 660.8 727 656.2C729.7 651.5 732.3 647 735 642.6C737.7 638.3 740.3 634.1 743 630C745.7 625.9 748.3 622 751 618.2C753.7 614.3 756.3 610.6 759 606.9C761.7 603.3 764.3 599.7 767 596.1C769.7 592.6 772.3 589.1 775 585.5C777.7 582 780.3 578.6 783 575.1C785.7 571.7 788.3 568.2 791 564.8C793.7 561.4 796.3 558 799 554.7C801.7 551.4 804.3 548.1 807 544.8C809.7 541.5 812.3 538.3 815 535.1C817.7 531.9 820.3 528.7 823 525.6C825.7 522.5 828.3 519.4 831 516.3C833.7 513.3 836.3 510.3 839 507.3C841.7 504.3 844.3 501.4 847 498.5C849.7 495.6 852.3 492.7 855 489.9C857.7 487.1 860.3 484.3 863 481.5C865.7 478.8 868.3 476 871 473.3C873.7 470.7 876.3 468 879 465.4C881.7 462.8 884.3 460.2 887 457.6C889.7 455.1 892.3 452.6 895 450.1C897.7 447.6 900.3 445.1 903 442.6C905.7 440.1 908.3 437.7 911 435.2C913.7 432.8 916.3 430.4 919 428C921.7 425.6 924.3 423.3 927 421C929.7 418.7 932.3 416.4 935 414.2C937.7 412 940.3 409.8 943 407.7C945.7 405.5 948.3 403.5 951 401.3C953.7 399.2 956.3 396.9 959 394.8C961.7 392.6 964.3 390.5 967 388.6C969.7 386.6 972.3 384.7 975 382.8C977.7 380.8 980.3 379 983 376.9C985.7 374.9 988.3 372.7 991 370.6C993.7 368.5 996.3 366.6 999 364.3C1001.7 362 1004.3 359.7 1007 357C1009.7 354.4 1012.7 351.1 1015 348.6C1017.3 346.2 1019.8 343.3 1020.7 342.3L1020.7 388.3C1019.8 388.5 1017.3 389.3 1015 389.8C1012.7 390.3 1009.7 390.8 1007 391.4C1004.3 392 1001.7 392.7 999 393.4C996.3 394.1 993.7 395.1 991 395.9C988.3 396.7 985.7 397.4 983 398.4C980.3 399.3 977.7 400.4 975 401.6C972.3 402.8 969.7 404.1 967 405.5C964.3 406.9 961.7 408.3 959 409.9C956.3 411.4 953.7 412.8 951 414.6C948.3 416.3 945.7 418.3 943 420.2C940.3 422.2 937.7 424.2 935 426.3C932.3 428.4 929.7 430.5 927 432.6C924.3 434.8 921.7 436.9 919 439.2C916.3 441.4 913.7 443.6 911 445.9C908.3 448.2 905.7 450.4 903 452.8C900.3 455.2 897.7 457.6 895 460C892.3 462.5 889.7 465 887 467.6C884.3 470.1 881.7 472.7 879 475.3C876.3 477.9 873.7 480.5 871 483.2C868.3 485.9 865.7 488.6 863 491.3C860.3 494.1 857.7 496.9 855 499.7C852.3 502.5 849.7 505.3 847 508.2C844.3 511.1 841.7 514 839 517C836.3 520 833.7 523 831 526C828.3 529 825.7 532.1 823 535.2C820.3 538.3 817.7 541.5 815 544.7C812.3 547.9 809.7 551.1 807 554.3C804.3 557.6 801.7 560.9 799 564.2C796.3 567.5 793.7 570.9 791 574.3C788.3 577.7 785.7 581.1 783 584.5C780.3 588 777.7 591.4 775 594.9C772.3 598.4 769.7 601.9 767 605.5C764.3 609 761.7 612.6 759 616.3C756.3 619.9 753.7 623.6 751 627.4C748.3 631.3 745.7 635.2 743 639.2C740.3 643.3 737.7 647.5 735 651.8C732.3 656.2 729.7 660.7 727 665.3C724.3 669.9 721.7 674.7 719 679.6C716.3 684.5 713.7 689.5 711 694.6C708.3 699.7 705.7 705 703 710.3C700.3 715.6 696.3 723.7 695 726.4Z" fill="#e0a839" fill-opacity="0.2" stroke="none"/>
<path d="M695 721.9C696.3 719.2 700.3 711 703 705.7C705.7 700.4 708.4 695.1 711 690C713.7 684.9 716.4 679.9 719.1 675C721.7 670 724.4 665.2 727.1 660.6C729.8 655.9 732.4 651.4 735.1 647.1C737.8 642.7 740.4 638.5 743.1 634.4C745.8 630.3 748.5 626.4 751.1 622.6C753.8 618.8 756.5 615.1 759.2 611.4C761.8 607.7 764.5 604.1 767.2 600.6C769.8 597 772.5 593.5 775.2 590C777.9 586.5 780.5 583 783.2 579.5C785.9 576.1 788.6 572.7 791.2 569.3C793.9 565.9 796.6 562.5 799.3 559.1C801.9 555.8 804.6 552.5 807.3 549.2C809.9 546 812.6 542.7 815.3 539.5C818 536.3 820.6 533.2 823.3 530C826 526.9 828.7 523.8 831.3 520.8C834 517.7 836.7 514.7 839.4 511.8C842 508.8 844.7 505.8 847.4 502.9C850 500 852.7 497.2 855.4 494.4C858.1 491.5 860.7 488.7 863.4 486C866.1 483.2 868.8 480.5 871.4 477.8C874.1 475.2 876.8 472.5 879.4 469.9C882.1 467.3 884.8 464.7 887.5 462.1C890.1 459.6 892.8 457.1 895.5 454.6C898.2 452.1 900.8 449.7 903.5 447.2C906.2 444.8 908.9 442.4 911.5 440.1C914.2 437.7 916.9 435.4 919.5 433.1C922.2 430.8 924.9 428.6 927.6 426.3C930.2 424.1 932.9 421.9 935.6 419.8C938.3 417.6 940.9 415.5 943.6 413.5C946.3 411.4 949 409.4 951.6 407.5C954.3 405.6 957 403.7 959.6 401.8C962.3 400 965 398.3 967.7 396.6C970.3 394.9 973 393.3 975.7 391.8C978.4 390.2 981 388.7 983.7 387.3C986.4 385.8 989 384.3 991.7 382.9C994.4 381.4 997.1 380 999.7 378.4C1002.4 376.9 1005.1 375.4 1007.8 373.8C1010.4 372.2 1013.1 370.5 1015.8 368.7C1018.5 367 1022.5 364 1023.8 363.1" stroke="#e0a839" stroke-width="6.3"/>
<path d="M250 654.3C250.7 654.2 252.7 653.8 254 653.5C255.3 653.2 256.7 653 258 652.8C259.3 652.5 260.7 652.3 262 652.1C263.3 651.8 264.7 651.6 266 651.4C267.3 651.1 268.7 650.9 270 650.6C271.3 650.4 272.7 650.2 274 649.9C275.3 649.7 276.7 649.4 278 649.1C279.3 648.9 280.7 648.6 282 648.4C283.3 648.1 284.7 647.8 286 647.5C287.3 647.3 288.7 647 290 646.8C291.3 646.5 292.7 646.2 294 646C295.3 645.7 296.7 645.4 298 645.1C299.3 644.9 300.7 642.9 302 644.4C303.3 645.8 304.7 650.1 306 653.6C307.3 657.1 308.7 661.4 310 665.4C311.3 669.4 312.7 674.5 314 677.8C315.3 681 316.7 683.2 318 684.8C319.3 686.3 320.7 686 322 686.8C323.3 687.7 324.7 688.7 326 689.8C327.3 690.9 328.7 692.2 330 693.5C331.3 694.8 332.7 696.2 334 697.5C335.3 698.8 336.7 700.2 338 701.5C339.3 702.8 340.7 704.2 342 705.5C343.3 706.8 345.3 708.8 346 709.5L346 722.5C345.3 721.8 343.3 719.8 342 718.5C340.7 717.2 339.3 715.8 338 714.5C336.7 713.2 335.3 711.8 334 710.5C332.7 709.2 331.3 707.8 330 706.5C328.7 705.2 327.3 703.9 326 702.8C324.7 701.7 323.3 700.7 322 699.8C320.7 699 319.3 699.3 318 697.8C316.7 696.2 315.3 694 314 690.8C312.7 687.5 311.3 682.4 310 678.4C308.7 674.4 307.3 670.1 306 666.6C304.7 663.1 303.3 658.8 302 657.4C300.7 655.9 299.3 657.9 298 658.1C296.7 658.4 295.3 658.7 294 659C292.7 659.2 291.3 659.5 290 659.8C288.7 660 287.3 660.3 286 660.5C284.7 660.8 283.3 661.1 282 661.4C280.7 661.6 279.3 661.9 278 662.1C276.7 662.4 275.3 662.7 274 662.9C272.7 663.2 271.3 663.4 270 663.6C268.7 663.9 267.3 664.1 266 664.4C264.7 664.6 263.3 664.8 262 665.1C260.7 665.3 259.3 665.5 258 665.8C256.7 666 255.3 666.2 254 666.5C252.7 666.8 250.7 667.2 250 667.3Z" fill="#dc2c22" fill-opacity="0.2" stroke="none"/>
<path d="M364 709.1C365.3 708.5 369.3 706.5 372 705.1C374.7 703.6 377.3 702.1 380 700.6C382.7 699 385.3 697.3 388 695.5C390.7 693.7 393.3 691.9 396 689.8C398.7 687.8 401.3 685.6 404 683.3C406.7 681 409.3 678.5 412 675.8C414.7 673.2 417.3 670.3 420 667.3C422.7 664.4 425.3 661.2 428 657.9C430.7 654.7 433.3 651.3 436 647.9C438.7 644.4 441.3 640.9 444 637.3C446.7 633.7 449.3 630.1 452 626.5C454.7 622.9 457.3 619.2 460 615.6C462.7 612 465.3 608.3 468 604.7C470.7 601.1 473.3 597.6 476 594.1C478.7 590.6 481.3 587.2 484 583.8C486.7 580.4 489.3 577.1 492 573.8C494.7 570.6 497.3 567.4 500 564.3C502.7 561.2 505.3 558.2 508 555.2C510.7 552.3 513.3 549.4 516 546.6C518.7 543.8 521.3 541.2 524 538.6C526.7 536 529.3 533.5 532 531.1C534.7 528.7 537.3 526.4 540 524.1C542.7 521.9 545.3 519.7 548 517.4C550.7 515.2 553.3 513 556 510.9C558.7 508.7 561.3 506.5 564 504.4C566.7 502.2 569.3 500.1 572 498C574.7 495.9 577.3 493.9 580 491.8C582.7 489.8 585.3 487.7 588 485.8C590.7 483.8 593.3 481.8 596 479.9C598.7 478 601.3 476.1 604 474.3C606.7 472.4 609.3 470.6 612 468.8C614.7 467.1 617.3 465.3 620 463.6C622.7 461.9 625.3 460.2 628 458.5C630.7 456.9 633.3 455.2 636 453.6C638.7 452 641.3 450.4 644 448.8C646.7 447.2 649.3 445.6 652 444C654.7 442.4 657.3 440.9 660 439.3C662.7 437.7 665.3 436.2 668 434.6C670.7 433.1 673.3 431.5 676 429.9C678.7 428.4 681.3 426.8 684 425.2C686.7 423.6 689.3 422 692 420.5C694.7 418.9 697.3 417.3 700 415.7C702.7 414.1 705.3 412.5 708 410.9C710.7 409.3 713.3 407.7 716 406.1C718.7 404.5 721.3 402.9 724 401.3C726.7 399.8 729.3 398.2 732 396.6C734.7 395 737.3 393.4 740 391.9C742.7 390.3 745.3 388.8 748 387.2C750.7 385.7 753.3 384.2 756 382.7C758.7 381.2 761.3 379.7 764 378.3C766.7 376.8 769.3 375.4 772 374.1C774.7 372.7 777.3 371.3 780 370C782.7 368.7 785.3 367.5 788 366.3C790.7 365 793.3 363.9 796 362.8C798.7 361.6 801.3 360.6 804 359.6C806.7 358.5 809.3 357.6 812 356.7C814.7 355.8 817.3 355 820 354.2C822.7 353.4 825.3 352.7 828 352C830.7 351.4 833.3 350.7 836 350.2C838.7 349.6 841.3 349.1 844 348.7C846.7 348.2 849.3 347.9 852 347.5C854.7 347.2 857.3 346.9 860 346.7C862.7 346.4 865.3 346.3 868 346.1C870.7 346 873.3 345.9 876 345.9C878.7 345.9 881.3 345.9 884 346C886.7 346 889.3 346.2 892 346.3C894.7 346.5 897.3 346.8 900 347C902.7 347.2 905.3 347.4 908 347.6C910.7 347.9 913.3 348.2 916 348.6C918.7 348.9 921.3 349.3 924 349.8C926.7 350.2 929.3 350.7 932 351.3C934.7 351.8 937.3 352.4 940 353C942.7 353.6 945.3 354.2 948 354.8C950.7 355.4 953.3 355.8 956 356.5C958.7 357.1 961.3 357.8 964 358.5C966.7 359.2 969.3 360.2 972 360.9C974.7 361.6 977.3 362.1 980 362.7C982.7 363.2 985.3 363.6 988 364.2C990.7 364.8 993.3 365.7 996 366.3C998.7 366.9 1001.3 367.5 1004 367.9C1006.7 368.4 1009.3 368.6 1012 369.3C1014.7 369.9 1018.5 371.2 1020 371.7C1021.5 372.1 1020.6 371.9 1020.7 371.9L1020.7 435.9C1020.6 435.7 1021.5 437.1 1020 434.8C1018.5 432.4 1014.7 426 1012 421.9C1009.3 417.8 1006.7 413.7 1004 410.2C1001.3 406.6 998.7 403.5 996 400.6C993.3 397.7 990.7 395.5 988 393C985.3 390.6 982.7 388.2 980 386.1C977.3 383.9 974.7 381.9 972 380.2C969.3 378.5 966.7 377.3 964 375.9C961.3 374.6 958.7 373.3 956 372C953.3 370.8 950.7 369.5 948 368.5C945.3 367.4 942.7 366.5 940 365.7C937.3 364.8 934.7 364.1 932 363.4C929.3 362.7 926.7 362 924 361.4C921.3 360.8 918.7 360.2 916 359.6C913.3 359.1 910.7 358.6 908 358.2C905.3 357.7 902.7 357.3 900 357C897.3 356.7 894.7 356.5 892 356.3C889.3 356.2 886.7 356 884 356C881.3 355.9 878.7 355.9 876 355.9C873.3 355.9 870.7 356 868 356.1C865.3 356.3 862.7 356.4 860 356.7C857.3 356.9 854.7 357.2 852 357.5C849.3 357.9 846.7 358.2 844 358.7C841.3 359.1 838.7 359.6 836 360.2C833.3 360.7 830.7 361.4 828 362C825.3 362.7 822.7 363.4 820 364.2C817.3 365 814.7 365.8 812 366.7C809.3 367.6 806.7 368.5 804 369.6C801.3 370.6 798.7 371.6 796 372.8C793.3 373.9 790.7 375 788 376.3C785.3 377.5 782.7 378.7 780 380C777.3 381.3 774.7 382.7 772 384.1C769.3 385.4 766.7 386.8 764 388.3C761.3 389.7 758.7 391.2 756 392.7C753.3 394.2 750.7 395.7 748 397.2C745.3 398.8 742.7 400.3 740 401.9C737.3 403.4 734.7 405 732 406.6C729.3 408.2 726.7 409.8 724 411.3C721.3 412.9 718.7 414.5 716 416.1C713.3 417.7 710.7 419.3 708 420.9C705.3 422.5 702.7 424.1 700 425.7C697.3 427.3 694.7 428.9 692 430.5C689.3 432 686.7 433.6 684 435.2C681.3 436.8 678.7 438.4 676 439.9C673.3 441.5 670.7 443.1 668 444.6C665.3 446.2 662.7 447.7 660 449.3C657.3 450.9 654.7 452.4 652 454C649.3 455.6 646.7 457.2 644 458.8C641.3 460.4 638.7 462 636 463.6C633.3 465.2 630.7 466.9 628 468.5C625.3 470.2 622.7 471.9 620 473.6C617.3 475.3 614.7 477.1 612 478.8C609.3 480.6 606.7 482.4 604 484.3C601.3 486.1 598.7 488 596 489.9C593.3 491.8 590.7 493.8 588 495.8C585.3 497.7 582.7 499.8 580 501.8C577.3 503.9 574.7 505.9 572 508C569.3 510.1 566.7 512.2 564 514.4C561.3 516.5 558.7 518.7 556 520.9C553.3 523 550.7 525.2 548 527.4C545.3 529.7 542.7 531.9 540 534.1C537.3 536.4 534.7 538.7 532 541.1C529.3 543.5 526.7 546 524 548.6C521.3 551.2 518.7 553.8 516 556.6C513.3 559.4 510.7 562.3 508 565.2C505.3 568.2 502.7 571.2 500 574.3C497.3 577.4 494.7 580.6 492 583.8C489.3 587.1 486.7 590.4 484 593.8C481.3 597.2 478.7 600.6 476 604.1C473.3 607.6 470.7 611.1 468 614.7C465.3 618.3 462.7 621.9 460 625.6C457.3 629.3 454.7 633 452 636.7C449.3 640.4 446.7 644.1 444 647.8C441.3 651.4 438.7 655.1 436 658.6C433.3 662.1 430.7 665.6 428 668.9C425.3 672.3 422.7 675.5 420 678.6C417.3 681.7 414.7 684.6 412 687.3C409.3 690.1 406.7 692.6 404 695.1C401.3 697.5 398.7 699.7 396 701.8C393.3 703.9 390.7 705.9 388 707.8C385.3 709.7 382.7 711.4 380 713.1C377.3 714.7 374.7 716.3 372 717.8C369.3 719.3 365.3 721.4 364 722.1Z" fill="#dc2c22" fill-opacity="0.2" stroke="none"/>
<path d="M250 660.8L254 660L275 656.2L287.5 653.8L302.5 650.8L308.8 667.5L313 682.5L318 691.2L323.8 694.2L330 700L336.2 706.2L346 716" stroke="#dc2c22" stroke-width="6.3"/>
<path d="M364 715.6C365.3 714.9 369.4 712.9 372 711.4C374.7 709.9 377.4 708.4 380.1 706.8C382.8 705.1 385.5 703.4 388.1 701.6C390.8 699.7 393.5 697.8 396.2 695.7C398.9 693.6 401.5 691.4 404.2 689C406.9 686.6 409.6 684.1 412.3 681.3C415 678.6 417.6 675.7 420.3 672.6C423 669.6 425.7 666.3 428.4 663C431.1 659.7 433.7 656.2 436.4 652.7C439.1 649.2 441.8 645.6 444.5 641.9C447.1 638.3 449.8 634.6 452.5 630.9C455.2 627.2 457.9 623.5 460.6 619.8C463.2 616.2 465.9 612.5 468.6 608.9C471.3 605.3 474 601.8 476.6 598.3C479.3 594.8 482 591.3 484.7 587.9C487.4 584.5 490.1 581.2 492.7 577.9C495.4 574.7 498.1 571.5 500.8 568.4C503.5 565.2 506.2 562.2 508.8 559.3C511.5 556.3 514.2 553.4 516.9 550.7C519.6 547.9 522.2 545.2 524.9 542.7C527.6 540.1 530.3 537.6 533 535.2C535.7 532.8 538.3 530.5 541 528.3C543.7 526 546.4 523.8 549.1 521.6C551.7 519.3 554.4 517.1 557.1 515C559.8 512.8 562.5 510.6 565.2 508.5C567.8 506.3 570.5 504.2 573.2 502.1C575.9 500 578.6 497.9 581.3 495.8C583.9 493.8 586.6 491.8 589.3 489.8C592 487.8 594.7 485.8 597.3 483.9C600 482 602.7 480.1 605.4 478.3C608.1 476.5 610.8 474.6 613.4 472.9C616.1 471.1 618.8 469.4 621.5 467.6C624.2 465.9 626.8 464.2 629.5 462.6C632.2 460.9 634.9 459.3 637.6 457.6C640.3 456 642.9 454.4 645.6 452.8C648.3 451.2 651 449.6 653.7 448C656.4 446.4 659 444.9 661.7 443.3C664.4 441.7 667.1 440.2 669.8 438.6C672.4 437 675.1 435.4 677.8 433.9C680.5 432.3 683.2 430.7 685.9 429.1C688.5 427.5 691.2 425.9 693.9 424.3C696.6 422.7 699.3 421.1 701.9 419.5C704.6 417.9 707.3 416.3 710 414.7C712.7 413.1 715.4 411.5 718 409.9C720.7 408.3 723.4 406.7 726.1 405.1C728.8 403.5 731.4 401.9 734.1 400.3C736.8 398.7 739.5 397.1 742.2 395.6C744.9 394 747.5 392.5 750.2 390.9C752.9 389.4 755.6 387.9 758.3 386.4C761 384.9 763.6 383.4 766.3 382C769 380.6 771.7 379.2 774.4 377.8C777 376.5 779.7 375.1 782.4 373.8C785.1 372.6 787.8 371.3 790.5 370.1C793.1 368.9 795.8 367.8 798.5 366.7C801.2 365.6 803.9 364.6 806.5 363.6C809.2 362.6 811.9 361.7 814.6 360.8C817.3 359.9 820 359.1 822.6 358.4C825.3 357.6 828 357 830.7 356.3C833.4 355.7 836.1 355.1 838.7 354.6C841.4 354.1 844.1 353.6 846.8 353.2C849.5 352.8 852.1 352.4 854.8 352.1C857.5 351.8 860.2 351.6 862.9 351.4C865.6 351.2 868.2 351.1 870.9 351C873.6 350.9 876.3 350.8 879 350.8C881.6 350.9 884.3 350.9 887 351C889.7 351.1 892.4 351.3 895.1 351.5C897.7 351.7 900.4 352 903.1 352.3C905.8 352.6 908.5 352.9 911.2 353.3C913.8 353.7 916.5 354.2 919.2 354.6C921.9 355.1 924.6 355.7 927.2 356.2C929.9 356.8 932.6 357.4 935.3 358.1C938 358.8 940.7 359.5 943.3 360.2C946 361 948.7 361.8 951.4 362.7C954.1 363.5 956.7 364.4 959.4 365.4C962.1 366.4 964.8 367.5 967.5 368.6C970.2 369.7 972.8 370.9 975.5 372.1C978.2 373.4 980.9 374.7 983.6 376.1C986.3 377.5 988.9 379 991.6 380.6C994.3 382.2 997 383.9 999.7 385.8C1002.3 387.7 1005 389.7 1007.7 391.8C1010.4 394 1013.1 396.3 1015.8 398.9C1018.4 401.4 1022.5 405.7 1023.8 407.1" stroke="#dc2c22" stroke-width="6.3"/>
</g>
<g id="left-axes" stroke="#666666" stroke-width="1.9" fill="none">
<path d="M258.5 209.4V706.2H1021.3"/>
<path d="M258.5 211.2h9.3"/>
<path d="M258.5 326.2h9.3"/>
<path d="M258.5 441.5h9.3"/>
<path d="M258.5 556.3h9.3"/>
<path d="M258.5 671.5h9.3"/>
<path d="M406.3 706.2v-11.3"/>
<path d="M576.3 706.2v-11.3"/>
<path d="M740.8 706.2v-11.3"/>
<path d="M911.2 706.2v-11.3"/>
</g>
<g id="left-labels" fill="#666666">
<text transform="translate(243.3 222.2) scale(0.94 1)" font-size="44" text-anchor="end">1 000 000</text>
<text transform="translate(243.3 337.2) scale(0.94 1)" font-size="44" text-anchor="end">100 000</text>
<text transform="translate(243.3 452.5) scale(0.94 1)" font-size="44" text-anchor="end">10 000</text>
<text transform="translate(243.3 567.3) scale(0.94 1)" font-size="44" text-anchor="end">1000</text>
<text transform="translate(243.3 682.5) scale(0.94 1)" font-size="44" text-anchor="end">100</text>
<text transform="translate(404.8 755.9) scale(0.94 1)" font-size="44" text-anchor="middle">Mar 1</text>
<text transform="translate(574.8 755.9) scale(0.94 1)" font-size="44" text-anchor="middle">Apr 1</text>
<text transform="translate(739.3 755.9) scale(0.94 1)" font-size="44" text-anchor="middle">May 1</text>
<text transform="translate(909.7 755.9) scale(0.94 1)" font-size="44" text-anchor="middle">Jun 1</text>
<text transform="translate(29.6 457.3) rotate(-90) scale(0.95 1)" font-size="44" text-anchor="middle">Estimated variant cases</text>
</g>
<text transform="translate(282.2 247.4) scale(0.967 1)" font-size="51.2" font-weight="bold" fill="#000">USA</text>
<g id="right-curves" clip-path="url(#cr)" fill="none" stroke-linejoin="round">
<path d="M1254.3 506.7H1946" stroke="#747474" stroke-width="1.8" stroke-dasharray="16.4 16.93"/>
<path d="M1242 584.2C1243 585.2 1246 588.9 1248 590.3C1250 591.7 1252 592.4 1254 592.6C1256 592.8 1258 592.3 1260 591.5C1262 590.7 1264 589.3 1266 587.8C1268 586.2 1270 584.2 1272 582C1274 579.9 1276 577.3 1278 574.9C1280 572.4 1282 569.7 1284 567.1C1286 564.6 1288 562 1290 559.7C1292 557.4 1294 555.3 1296 553.4C1298 551.6 1300 550 1302 548.6C1304 547.2 1306 546 1308 545.1C1310 544.1 1312 543.4 1314 542.8C1316 542.3 1318 541.9 1320 541.7C1322 541.5 1324 541.4 1326 541.5C1328 541.5 1330 541.7 1332 542C1334 542.3 1336 542.7 1338 543.1C1340 543.6 1342 544.1 1344 544.7C1346 545.2 1348 545.8 1350 546.4C1352 547 1354 547.6 1356 548.2C1358 548.8 1360 549.3 1362 549.8C1364 550.3 1366 550.8 1368 551.2C1370 551.5 1372 551.8 1374 552C1376 552.2 1378 552.3 1380 552.3C1382 552.2 1384 552.1 1386 552C1388 551.8 1390 551.5 1392 551.2C1394 550.9 1396 550.6 1398 550.2C1400 549.8 1402 549.3 1404 548.9C1406 548.4 1408 548 1410 547.5C1412 547 1414 546.5 1416 546.1C1418 545.6 1420 545.1 1422 544.7C1424 544.3 1426 543.9 1428 543.6C1430 543.3 1432 543 1434 542.7C1436 542.5 1438 542.4 1440 542.3C1442 542.2 1444 542.2 1446 542.2C1448 542.2 1450 542.3 1452 542.5C1454 542.6 1456 542.8 1458 543C1460 543.3 1462 543.6 1464 543.9C1466 544.2 1468 544.5 1470 544.9C1472 545.2 1474 545.6 1476 546C1478 546.4 1480 546.8 1482 547.2C1484 547.6 1486 548 1488 548.4C1490 548.9 1492 549.3 1494 549.7C1496 550.1 1498 550.4 1500 550.8C1502 551.2 1504 551.5 1506 551.8C1508 552.1 1510 552.4 1512 552.7C1514 552.9 1516 553.1 1518 553.3C1520 553.4 1522 553.6 1524 553.7C1526 553.8 1528 553.8 1530 553.9C1532 553.9 1534 553.9 1536 553.9C1538 553.8 1540 553.7 1542 553.6C1544 553.5 1546 553.4 1548 553.2C1550 553.1 1552 552.9 1554 552.6C1556 552.4 1558 552.1 1560 551.9C1562 551.6 1564 551.3 1566 550.9C1568 550.6 1570 550.2 1572 549.8C1574 549.4 1576 549 1578 548.5C1580 548.1 1582 547.6 1584 547.2C1586 546.7 1588 546.2 1590 545.8C1592 545.3 1594 544.9 1596 544.5C1598 544.1 1600 543.7 1602 543.4C1604 543.1 1606 542.8 1608 542.6C1610 542.3 1612 542.2 1614 542.1C1616 542 1618 541.9 1620 542C1622 542 1624 542 1626 542.1C1628 542.2 1630 542.4 1632 542.6C1634 542.8 1636 543 1638 543.3C1640 543.5 1642 543.8 1644 544.1C1646 544.4 1648 544.7 1650 545C1652 545.3 1654 545.6 1656 546C1658 546.3 1660 546.6 1662 547C1664 547.3 1666 547.7 1668 548C1670 548.3 1672 548.7 1674 549C1676 549.4 1678 549.7 1680 550C1682 550.3 1684 550.6 1686 550.9C1688 551.2 1690 551.5 1692 551.8C1694 552.1 1696 552.3 1698 552.6C1700 552.8 1702 553 1704 553.2C1706 553.4 1708.2 553.6 1710 553.8C1711.8 553.9 1713.8 554 1714.6 554L1714.6 569.6C1713.8 569.6 1711.8 569.5 1710 569.4C1708.2 569.2 1706 569 1704 568.8C1702 568.6 1700 568.4 1698 568.2C1696 567.9 1694 567.7 1692 567.4C1690 567.1 1688 566.8 1686 566.5C1684 566.2 1682 565.9 1680 565.6C1678 565.3 1676 565 1674 564.6C1672 564.3 1670 563.9 1668 563.6C1666 563.3 1664 562.9 1662 562.6C1660 562.2 1658 561.9 1656 561.6C1654 561.2 1652 560.9 1650 560.6C1648 560.3 1646 560 1644 559.7C1642 559.4 1640 559.1 1638 558.9C1636 558.6 1634 558.4 1632 558.2C1630 558 1628 557.8 1626 557.7C1624 557.6 1622 557.6 1620 557.6C1618 557.5 1616 557.6 1614 557.7C1612 557.8 1610 557.9 1608 558.2C1606 558.4 1604 558.7 1602 559C1600 559.3 1598 559.7 1596 560.1C1594 560.5 1592 560.9 1590 561.4C1588 561.8 1586 562.3 1584 562.8C1582 563.2 1580 563.7 1578 564.1C1576 564.6 1574 565 1572 565.4C1570 565.8 1568 566.2 1566 566.5C1564 566.9 1562 567.2 1560 567.5C1558 567.7 1556 568 1554 568.2C1552 568.5 1550 568.7 1548 568.8C1546 569 1544 569.1 1542 569.2C1540 569.3 1538 569.4 1536 569.5C1534 569.5 1532 569.5 1530 569.5C1528 569.4 1526 569.4 1524 569.3C1522 569.2 1520 569 1518 568.9C1516 568.7 1514 568.5 1512 568.3C1510 568 1508 567.7 1506 567.4C1504 567.1 1502 566.8 1500 566.4C1498 566 1496 565.7 1494 565.3C1492 564.9 1490 564.5 1488 564C1486 563.6 1484 563.2 1482 562.8C1480 562.4 1478 562 1476 561.6C1474 561.2 1472 560.8 1470 560.5C1468 560.1 1466 559.8 1464 559.5C1462 559.2 1460 558.9 1458 558.6C1456 558.4 1454 558.2 1452 558.1C1450 557.9 1448 557.8 1446 557.8C1444 557.8 1442 557.8 1440 557.9C1438 558 1436 558.1 1434 558.3C1432 558.6 1430 558.9 1428 559.2C1426 559.5 1424 559.9 1422 560.3C1420 560.7 1418 561.2 1416 561.7C1414 562.1 1412 562.6 1410 563.1C1408 563.6 1406 564 1404 564.5C1402 564.9 1400 565.4 1398 565.8C1396 566.2 1394 566.5 1392 566.8C1390 567.1 1388 567.4 1386 567.6C1384 567.7 1382 567.8 1380 567.9C1378 567.9 1376 567.8 1374 567.6C1372 567.4 1370 567.1 1368 566.8C1366 566.4 1364 565.9 1362 565.4C1360 564.9 1358 564.4 1356 563.8C1354 563.2 1352 562.6 1350 562C1348 561.4 1346 560.8 1344 560.3C1342 559.7 1340 559.2 1338 558.7C1336 558.3 1334 557.9 1332 557.6C1330 557.3 1328 557.1 1326 557.1C1324 557 1322 557.1 1320 557.3C1318 557.5 1316 557.9 1314 558.4C1312 559 1310 559.7 1308 560.7C1306 561.6 1304 562.8 1302 564.2C1300 565.6 1298 567.2 1296 569C1294 570.9 1292 573 1290 575.3C1288 577.6 1286 580.2 1284 582.7C1282 585.3 1280 588 1278 590.5C1276 592.9 1274 595.5 1272 597.6C1270 599.8 1268 601.8 1266 603.4C1264 604.9 1262 606.3 1260 607.1C1258 607.9 1256 608.4 1254 608.2C1252 608 1250 607.3 1248 605.9C1246 604.5 1243 600.8 1242 599.8Z" fill="#452fb9" fill-opacity="0.2" stroke="none"/>
<path d="M1242 592C1243 593 1246 596.8 1248 598.2C1250 599.6 1252 600.2 1254.1 600.4C1256.1 600.6 1258.1 600.1 1260.1 599.3C1262.1 598.5 1264.1 597.1 1266.1 595.5C1268.1 593.9 1270.1 591.9 1272.1 589.7C1274.1 587.5 1276.1 585 1278.2 582.5C1280.2 580 1282.2 577.2 1284.2 574.7C1286.2 572.2 1288.2 569.5 1290.2 567.3C1292.2 565 1294.2 562.8 1296.2 561C1298.2 559.1 1300.2 557.6 1302.3 556.2C1304.3 554.8 1306.3 553.7 1308.3 552.7C1310.3 551.8 1312.3 551.1 1314.3 550.5C1316.3 550 1318.3 549.6 1320.3 549.4C1322.3 549.2 1324.3 549.2 1326.4 549.3C1328.4 549.3 1330.4 549.6 1332.4 549.9C1334.4 550.2 1336.4 550.6 1338.4 551C1340.4 551.5 1342.4 552 1344.4 552.6C1346.4 553.1 1348.4 553.7 1350.5 554.3C1352.5 554.9 1354.5 555.6 1356.5 556.1C1358.5 556.7 1360.5 557.3 1362.5 557.8C1364.5 558.3 1366.5 558.7 1368.5 559.1C1370.5 559.4 1372.5 559.7 1374.6 559.9C1376.6 560 1378.6 560.1 1380.6 560.1C1382.6 560 1384.6 559.9 1386.6 559.7C1388.6 559.5 1390.6 559.3 1392.6 559C1394.6 558.6 1396.6 558.3 1398.7 557.9C1400.7 557.5 1402.7 557 1404.7 556.5C1406.7 556.1 1408.7 555.6 1410.7 555.1C1412.7 554.6 1414.7 554.2 1416.7 553.7C1418.7 553.2 1420.8 552.8 1422.8 552.4C1424.8 552 1426.8 551.6 1428.8 551.2C1430.8 550.9 1432.8 550.6 1434.8 550.4C1436.8 550.2 1438.8 550.1 1440.8 550C1442.8 549.9 1444.9 549.9 1446.9 550C1448.9 550.1 1450.9 550.2 1452.9 550.3C1454.9 550.5 1456.9 550.7 1458.9 550.9C1460.9 551.2 1462.9 551.5 1464.9 551.8C1466.9 552.1 1469 552.5 1471 552.8C1473 553.2 1475 553.6 1477 554C1479 554.4 1481 554.8 1483 555.2C1485 555.6 1487 556 1489 556.5C1491 556.9 1493.1 557.3 1495.1 557.7C1497.1 558.1 1499.1 558.5 1501.1 558.8C1503.1 559.2 1505.1 559.5 1507.1 559.8C1509.1 560.1 1511.1 560.4 1513.1 560.6C1515.1 560.8 1517.2 561 1519.2 561.2C1521.2 561.3 1523.2 561.5 1525.2 561.5C1527.2 561.6 1529.2 561.7 1531.2 561.7C1533.2 561.7 1535.2 561.7 1537.2 561.6C1539.2 561.6 1541.3 561.5 1543.3 561.4C1545.3 561.3 1547.3 561.1 1549.3 560.9C1551.3 560.8 1553.3 560.5 1555.3 560.3C1557.3 560.1 1559.3 559.8 1561.3 559.5C1563.4 559.2 1565.4 558.8 1567.4 558.5C1569.4 558.1 1571.4 557.7 1573.4 557.3C1575.4 556.9 1577.4 556.5 1579.4 556C1581.4 555.6 1583.4 555.1 1585.4 554.6C1587.5 554.2 1589.5 553.7 1591.5 553.3C1593.5 552.8 1595.5 552.4 1597.5 552C1599.5 551.6 1601.5 551.2 1603.5 550.9C1605.5 550.6 1607.5 550.4 1609.5 550.2C1611.6 550 1613.6 549.8 1615.6 549.8C1617.6 549.7 1619.6 549.7 1621.6 549.7C1623.6 549.8 1625.6 549.9 1627.6 550C1629.6 550.1 1631.6 550.3 1633.6 550.5C1635.7 550.7 1637.7 551 1639.7 551.3C1641.7 551.5 1643.7 551.8 1645.7 552.1C1647.7 552.4 1649.7 552.7 1651.7 553.1C1653.7 553.4 1655.7 553.7 1657.7 554.1C1659.8 554.4 1661.8 554.7 1663.8 555.1C1665.8 555.4 1667.8 555.8 1669.8 556.1C1671.8 556.5 1673.8 556.8 1675.8 557.1C1677.8 557.5 1679.8 557.8 1681.8 558.1C1683.9 558.4 1685.9 558.7 1687.9 559C1689.9 559.3 1691.9 559.6 1693.9 559.9C1695.9 560.1 1697.9 560.4 1699.9 560.6C1701.9 560.8 1703.9 561 1705.9 561.2C1708 561.4 1710 561.6 1712 561.7C1714 561.8 1717 562 1718 562" stroke="#452fb9" stroke-width="6.3"/>
<path d="M1242 547.1C1243 548.3 1246 553.1 1248 554.5C1250 555.8 1252 555.9 1254 555.3C1256 554.6 1258 552.9 1260 550.7C1262 548.5 1264 545.4 1266 542C1268 538.6 1270 534.5 1272 530.3C1274 526.1 1276 521.5 1278 517C1280 512.5 1282 507.7 1284 503.2C1286 498.7 1288 494.1 1290 490.1C1292 486.2 1294 482.7 1296 479.4C1298 476.1 1300 473 1302 470.4C1304 467.7 1306 465.4 1308 463.5C1310 461.7 1312 460.2 1314 459.1C1316 458.1 1318 457.5 1320 457.1C1322 456.7 1324 456.8 1326 456.9C1328 457.1 1330 457.5 1332 457.9C1334 458.4 1336 459 1338 459.7C1340 460.3 1342 461.1 1344 461.8C1346 462.5 1348 463.3 1350 464.1C1352 464.9 1354 465.7 1356 466.4C1358 467.2 1360 467.9 1362 468.6C1364 469.3 1366 469.9 1368 470.5C1370 471 1372 471.5 1374 471.9C1376 472.3 1378 472.6 1380 472.8C1382 472.9 1384 473 1386 472.8C1388 472.7 1390 472.3 1392 471.8C1394 471.3 1396 470.7 1398 470.1C1400 469.4 1402 468.6 1404 467.8C1406 467.1 1408 466.2 1410 465.4C1412 464.5 1414 463.6 1416 462.8C1418 462 1420 461.2 1422 460.5C1424 459.7 1426 459 1428 458.4C1430 457.8 1432 457.3 1434 456.9C1436 456.4 1438 456.1 1440 455.8C1442 455.5 1444 455.3 1446 455.2C1448 455.1 1450 455.2 1452 455.3C1454 455.5 1456 455.8 1458 456.1C1460 456.5 1462 456.9 1464 457.4C1466 458 1468 458.6 1470 459.3C1472 460 1474 460.9 1476 461.8C1478 462.7 1480 463.7 1482 464.7C1484 465.8 1486 466.9 1488 468.1C1490 469.2 1492 470.4 1494 471.6C1496 472.8 1498 474 1500 475.1C1502 476.3 1504 477.5 1506 478.6C1508 479.7 1510 480.7 1512 481.7C1514 482.7 1516 483.6 1518 484.4C1520 485.2 1522 486 1524 486.7C1526 487.4 1528 488 1530 488.6C1532 489.1 1534 489.6 1536 490C1538 490.4 1540 490.8 1542 491C1544 491.3 1546 491.6 1548 491.6C1550 491.7 1552 491.7 1554 491.6C1556 491.5 1558 491.3 1560 491.1C1562 490.9 1564 490.6 1566 490.3C1568 489.9 1570 489.5 1572 489.1C1574 488.6 1576 488.2 1578 487.7C1580 487.2 1582 486.6 1584 486.1C1586 485.6 1588 485.1 1590 484.6C1592 484.1 1594 483.6 1596 483.1C1598 482.7 1600 482.2 1602 481.9C1604 481.5 1606 481.1 1608 480.8C1610 480.5 1612 480.2 1614 480C1616 479.7 1618 479.5 1620 479.4C1622 479.2 1624 479 1626 478.9C1628 478.8 1630 478.8 1632 478.7C1634 478.7 1636 478.7 1638 478.8C1640 478.8 1642 478.9 1644 479C1646 479.1 1648 479.3 1650 479.5C1652 479.7 1654 479.9 1656 480.1C1658 480.3 1660 480.6 1662 480.9C1664 481.2 1666 481.5 1668 481.9C1670 482.2 1672 482.6 1674 483C1676 483.4 1678 483.8 1680 484.2C1682 484.7 1684 485.2 1686 485.7C1688 486.2 1690 486.7 1692 487.2C1694 487.8 1696 488.3 1698 488.9C1700 489.5 1702 490.1 1704 490.7C1706 491.3 1708 491.9 1710 492.5C1712 493.2 1714 493.8 1716 494.5C1718 495.1 1720 495.8 1722 496.5C1724 497.1 1726 497.8 1728 498.5C1730 499.2 1732 499.9 1734 500.6C1736 501.2 1738 501.9 1740 502.6C1742 503.3 1744 504 1746 504.7C1748 505.3 1750 506 1752 506.7C1754 507.3 1756 508 1758 508.6C1760 509.3 1762 509.9 1764 510.5C1766 511.1 1768 511.6 1770 512.2C1772 512.7 1774 513.3 1776 513.8C1778 514.3 1780 514.8 1782 515.3C1784 515.8 1786 516.2 1788 516.7C1790 517.1 1792 517.5 1794 517.9C1796 518.3 1798 518.7 1800 519C1802 519.4 1804 519.7 1806 520C1808 520.4 1810.8 520.8 1812 520.9C1813.2 521.1 1808.1 520.7 1813 521.1C1817.9 521.4 1831.8 522.7 1841.2 523C1850.6 523.3 1860 523.5 1869.4 523C1878.8 522.5 1889.9 521.8 1897.7 520C1905.5 518.2 1910.6 515.7 1916 512C1921.4 508.3 1925.6 505 1930 498C1934.4 491 1940.4 474.7 1942.5 470L1942.5 590C1940.4 586.7 1934.4 575 1930 570C1925.6 565 1921.4 562.7 1916 560C1910.6 557.3 1905.5 556 1897.7 554C1889.9 552 1878.8 549.8 1869.4 548C1860 546.2 1850.6 544.5 1841.2 543C1831.8 541.5 1817.9 539.8 1813 539.1C1808.1 538.4 1813.2 539.1 1812 538.9C1810.8 538.7 1808 538.3 1806 537.9C1804 537.6 1802 537.2 1800 536.8C1798 536.4 1796 536 1794 535.6C1792 535.1 1790 534.7 1788 534.2C1786 533.7 1784 533.2 1782 532.7C1780 532.2 1778 531.7 1776 531.1C1774 530.5 1772 530 1770 529.4C1768 528.8 1766 528.2 1764 527.5C1762 526.9 1760 526.3 1758 525.7C1756 525 1754 524.4 1752 523.8C1750 523.2 1748 522.5 1746 521.9C1744 521.2 1742 520.6 1740 519.9C1738 519.3 1736 518.6 1734 518C1732 517.3 1730 516.7 1728 516C1726 515.4 1724 514.7 1722 514.1C1720 513.5 1718 512.8 1716 512.2C1714 511.6 1712 511 1710 510.3C1708 509.7 1706 509.2 1704 508.6C1702 508 1700 507.4 1698 506.9C1696 506.3 1694 505.8 1692 505.3C1690 504.8 1688 504.3 1686 503.9C1684 503.4 1682 503 1680 502.5C1678 502.1 1676 501.7 1674 501.4C1672 501 1670 500.7 1668 500.3C1666 500 1664 499.7 1662 499.5C1660 499.2 1658 499 1656 498.8C1654 498.6 1652 498.4 1650 498.2C1648 498.1 1646 498 1644 497.9C1642 497.8 1640 497.8 1638 497.7C1636 497.7 1634 497.7 1632 497.7C1630 497.7 1628 497.8 1626 497.8C1624 497.9 1622 498 1620 498.2C1618 498.3 1616 498.5 1614 498.7C1612 498.9 1610 499.2 1608 499.5C1606 499.8 1604 500.1 1602 500.5C1600 500.8 1598 501.2 1596 501.7C1594 502.1 1592 502.6 1590 503.1C1588 503.5 1586 504.1 1584 504.5C1582 505 1580 505.5 1578 506C1576 506.5 1574 506.9 1572 507.3C1570 507.8 1568 508.1 1566 508.5C1564 508.8 1562 509.1 1560 509.3C1558 509.5 1556 509.6 1554 509.7C1552 509.7 1550 509.7 1548 509.6C1546 509.6 1544 509.6 1542 509.5C1540 509.3 1538 509.1 1536 508.9C1534 508.6 1532 508.2 1530 507.8C1528 507.4 1526 506.9 1524 506.4C1522 505.8 1520 505.2 1518 504.5C1516 503.8 1514 503 1512 502.2C1510 501.4 1508 500.5 1506 499.5C1504 498.5 1502 497.5 1500 496.5C1498 495.5 1496 494.4 1494 493.4C1492 492.3 1490 491.3 1488 490.3C1486 489.3 1484 488.3 1482 487.4C1480 486.5 1478 485.6 1476 484.8C1474 484 1472 483.4 1470 482.8C1468 482.2 1466 481.7 1464 481.3C1462 480.9 1460 480.6 1458 480.4C1456 480.2 1454 480.1 1452 480C1450 480 1448 480 1446 480.1C1444 480.2 1442 480.2 1440 480.4C1438 480.6 1436 480.9 1434 481.2C1432 481.6 1430 482 1428 482.5C1426 483 1424 483.6 1422 484.2C1420 484.8 1418 485.5 1416 486.3C1414 487 1412 487.8 1410 488.5C1408 489.3 1406 490 1404 490.7C1402 491.4 1400 492.1 1398 492.6C1396 493.2 1394 493.7 1392 494.1C1390 494.5 1388 494.7 1386 494.8C1384 495 1382 495.1 1380 495.1C1378 495 1376 494.8 1374 494.5C1372 494.2 1370 493.8 1368 493.4C1366 492.9 1364 492.4 1362 491.8C1360 491.2 1358 490.6 1356 489.9C1354 489.3 1352 488.6 1350 487.9C1348 487.2 1346 486.5 1344 485.9C1342 485.3 1340 484.6 1338 484.1C1336 483.5 1334 483 1332 482.6C1330 482.3 1328 481.9 1326 481.9C1324 481.9 1322 482.1 1320 482.6C1318 483.1 1316 483.9 1314 485.1C1312 486.4 1310 488 1308 490C1306 492.1 1304 494.6 1302 497.4C1300 500.2 1298 503.4 1296 506.9C1294 510.3 1292 514.3 1290 518.1C1288 522 1286 525.9 1284 529.9C1282 534 1280 538.4 1278 542.5C1276 546.6 1274 550.8 1272 554.6C1270 558.3 1268 562 1266 565C1264 567.9 1262 570.6 1260 572.4C1258 574.2 1256 575.6 1254 575.8C1252 576 1250 575.5 1248 573.7C1246 571.9 1243 566.5 1242 565.1Z" fill="#4f97ba" fill-opacity="0.2" stroke="none"/>
<path d="M1242 556.1C1243 557.4 1246 562.5 1248 564.1C1250 565.7 1252 566 1253.9 565.6C1255.9 565.1 1257.9 563.7 1259.9 561.7C1261.9 559.7 1263.9 556.8 1265.9 553.6C1267.9 550.5 1269.9 546.6 1271.9 542.7C1273.9 538.8 1275.9 534.4 1277.8 530.1C1279.8 525.8 1281.8 521.2 1283.8 516.9C1285.8 512.7 1287.8 508.4 1289.8 504.5C1291.8 500.6 1293.8 496.9 1295.8 493.5C1297.8 490.1 1299.8 486.9 1301.7 484.2C1303.7 481.4 1305.7 479 1307.7 477C1309.7 475 1311.7 473.4 1313.7 472.3C1315.7 471.1 1317.7 470.4 1319.7 469.9C1321.7 469.4 1323.7 469.3 1325.6 469.4C1327.6 469.4 1329.6 469.8 1331.6 470.2C1333.6 470.6 1335.6 471.2 1337.6 471.7C1339.6 472.3 1341.6 473 1343.6 473.7C1345.6 474.4 1347.6 475.1 1349.5 475.8C1351.5 476.5 1353.5 477.3 1355.5 478C1357.5 478.7 1359.5 479.4 1361.5 480C1363.5 480.7 1365.5 481.3 1367.5 481.8C1369.5 482.3 1371.4 482.8 1373.4 483.1C1375.4 483.5 1377.4 483.8 1379.4 483.9C1381.4 484 1383.4 484.1 1385.4 483.9C1387.4 483.8 1389.4 483.5 1391.4 483.1C1393.4 482.7 1395.3 482.2 1397.3 481.6C1399.3 481 1401.3 480.3 1403.3 479.5C1405.3 478.8 1407.3 478 1409.3 477.2C1411.3 476.4 1413.3 475.6 1415.3 474.8C1417.3 474 1419.2 473.3 1421.2 472.6C1423.2 471.9 1425.2 471.2 1427.2 470.7C1429.2 470.1 1431.2 469.6 1433.2 469.2C1435.2 468.8 1437.2 468.4 1439.2 468.2C1441.2 467.9 1443.1 467.7 1445.1 467.6C1447.1 467.6 1449.1 467.5 1451.1 467.6C1453.1 467.7 1455.1 467.8 1457.1 468.1C1459.1 468.4 1461.1 468.7 1463.1 469.1C1465.1 469.6 1467 470.1 1469 470.7C1471 471.3 1473 472 1475 472.8C1477 473.7 1479 474.6 1481 475.5C1483 476.5 1485 477.5 1487 478.6C1488.9 479.7 1490.9 480.8 1492.9 481.9C1494.9 483 1496.9 484.1 1498.9 485.2C1500.9 486.3 1502.9 487.4 1504.9 488.5C1506.9 489.5 1508.9 490.5 1510.9 491.5C1512.8 492.4 1514.8 493.2 1516.8 494C1518.8 494.8 1520.8 495.5 1522.8 496.2C1524.8 496.8 1526.8 497.4 1528.8 497.9C1530.8 498.4 1532.8 498.9 1534.8 499.2C1536.7 499.6 1538.7 499.9 1540.7 500.1C1542.7 500.4 1544.7 500.5 1546.7 500.6C1548.7 500.7 1550.7 500.7 1552.7 500.7C1554.7 500.7 1556.7 500.5 1558.7 500.4C1560.6 500.2 1562.6 499.9 1564.6 499.6C1566.6 499.3 1568.6 498.9 1570.6 498.5C1572.6 498.1 1574.6 497.7 1576.6 497.2C1578.6 496.7 1580.6 496.2 1582.6 495.7C1584.5 495.2 1586.5 494.7 1588.5 494.2C1590.5 493.7 1592.5 493.2 1594.5 492.7C1596.5 492.3 1598.5 491.8 1600.5 491.4C1602.5 491 1604.5 490.7 1606.4 490.4C1608.4 490 1610.4 489.8 1612.4 489.5C1614.4 489.3 1616.4 489.1 1618.4 488.9C1620.4 488.7 1622.4 488.6 1624.4 488.5C1626.4 488.3 1628.4 488.3 1630.3 488.2C1632.3 488.2 1634.3 488.2 1636.3 488.2C1638.3 488.2 1640.3 488.3 1642.3 488.4C1644.3 488.4 1646.3 488.6 1648.3 488.7C1650.3 488.9 1652.3 489 1654.2 489.2C1656.2 489.4 1658.2 489.7 1660.2 489.9C1662.2 490.2 1664.2 490.5 1666.2 490.8C1668.2 491.1 1670.2 491.4 1672.2 491.8C1674.2 492.2 1676.2 492.6 1678.1 493C1680.1 493.4 1682.1 493.8 1684.1 494.3C1686.1 494.8 1688.1 495.3 1690.1 495.8C1692.1 496.3 1694.1 496.8 1696.1 497.3C1698.1 497.9 1700.1 498.5 1702 499C1704 499.6 1706 500.2 1708 500.8C1710 501.4 1712 502.1 1714 502.7C1716 503.3 1718 504 1720 504.6C1722 505.3 1723.9 505.9 1725.9 506.6C1727.9 507.2 1729.9 507.9 1731.9 508.6C1733.9 509.2 1735.9 509.9 1737.9 510.6C1739.9 511.2 1741.9 511.9 1743.9 512.6C1745.9 513.2 1747.8 513.9 1749.8 514.5C1751.8 515.2 1753.8 515.8 1755.8 516.5C1757.8 517.1 1759.8 517.7 1761.8 518.3C1763.8 519 1765.8 519.6 1767.8 520.1C1769.8 520.7 1771.7 521.3 1773.7 521.8C1775.7 522.4 1777.7 522.9 1779.7 523.4C1781.7 524 1783.7 524.5 1785.7 524.9C1787.7 525.4 1789.7 525.8 1791.7 526.3C1793.7 526.7 1795.6 527.1 1797.6 527.5C1799.6 527.9 1801.6 528.2 1803.6 528.6C1805.6 528.9 1807.6 529.3 1809.6 529.6C1811.6 529.9 1813.6 530.2 1815.6 530.5C1817.6 530.7 1819.5 531 1821.5 531.3C1823.5 531.5 1825.5 531.8 1827.5 532C1829.5 532.2 1831.5 532.4 1833.5 532.6C1835.5 532.9 1837.5 533.1 1839.5 533.2C1841.4 533.4 1843.4 533.6 1845.4 533.8C1847.4 534 1849.4 534.1 1851.4 534.3C1853.4 534.5 1855.4 534.6 1857.4 534.8C1859.4 534.9 1861.4 535.1 1863.4 535.2C1865.3 535.4 1867.3 535.5 1869.3 535.7C1871.3 535.8 1873.3 536 1875.3 536.1C1877.3 536.3 1879.3 536.4 1881.3 536.6C1883.3 536.7 1885.3 536.9 1887.3 537.1C1889.2 537.2 1891.2 537.4 1893.2 537.6C1895.2 537.7 1897.2 537.9 1899.2 538.1C1901.2 538.3 1903.2 538.5 1905.2 538.6C1907.2 538.8 1909.2 538.9 1911.2 539C1913.1 539 1915.1 539 1917.1 538.9C1919.1 538.8 1921.1 538.7 1923.1 538.4C1925.1 538.1 1927.1 537.6 1929.1 537.1C1931.1 536.5 1933.1 535.8 1935.1 534.8C1937 533.9 1939 532.9 1941 531.5C1943 530.2 1946 527.7 1947 526.9" stroke="#4f97ba" stroke-width="6.3"/>
<path d="M1700.5 375C1704.2 376.9 1715.1 382.8 1723 386.2C1730.9 389.7 1739.7 392.4 1748 395.5C1756.3 398.6 1764.7 401.8 1773 405C1781.3 408.2 1789.7 411.2 1798 415C1806.3 418.8 1814.7 423 1823 427.5C1831.3 432 1841.5 438.1 1848 442C1854.5 445.9 1857.8 448.3 1862 451C1866.2 453.7 1869.3 456.4 1873 458C1876.7 459.6 1880 460 1884 460.5C1888 461 1893 461.9 1897 461C1901 460.1 1905.3 457.2 1908 455C1910.7 452.8 1911.2 452.5 1913 448C1914.8 443.5 1916.7 436.1 1919 428C1921.3 419.9 1924.7 409 1927 399.5C1929.3 390 1931.3 380.4 1933 371C1934.7 361.6 1935.8 352.3 1937 343C1938.2 333.7 1939.1 328 1940 315C1940.9 302 1942.1 273.3 1942.5 265L1942.5 612C1940.4 605.8 1934.4 584.8 1930 575C1925.6 565.2 1921.2 559.5 1916 553C1910.8 546.5 1904.1 541.3 1899 536C1893.9 530.7 1889.8 526.2 1885.5 521C1881.2 515.8 1879.2 512.2 1873 505C1866.8 497.8 1856.3 485.6 1848 477.5C1839.7 469.4 1831.3 462.3 1823 456.2C1814.7 450.2 1806.3 445.6 1798 441.2C1789.7 436.9 1781.3 433.3 1773 430C1764.7 426.7 1756.3 423.8 1748 421.2C1739.7 418.8 1730.9 417 1723 415C1715.1 413 1704.2 410.4 1700.5 409.5Z" fill="#91bb62" fill-opacity="0.2" stroke="none"/>
<path d="M1697.2 390.2C1698.2 390.6 1701.2 391.9 1703.2 392.8C1705.2 393.6 1707.2 394.5 1709.1 395.3C1711.1 396 1713.1 396.8 1715.1 397.6C1717.1 398.3 1719 399 1721 399.8C1723 400.5 1725 401.2 1727 401.9C1728.9 402.5 1730.9 403.2 1732.9 403.9C1734.9 404.6 1736.9 405.2 1738.8 405.9C1740.8 406.5 1742.8 407.2 1744.8 407.8C1746.8 408.5 1748.7 409.1 1750.7 409.8C1752.7 410.5 1754.7 411.1 1756.7 411.8C1758.6 412.5 1760.6 413.1 1762.6 413.8C1764.6 414.5 1766.6 415.2 1768.5 415.9C1770.5 416.6 1772.5 417.4 1774.5 418.1C1776.5 418.9 1778.5 419.7 1780.4 420.4C1782.4 421.2 1784.4 422.1 1786.4 422.9C1788.4 423.8 1790.3 424.6 1792.3 425.6C1794.3 426.5 1796.3 427.4 1798.3 428.4C1800.2 429.4 1802.2 430.4 1804.2 431.4C1806.2 432.5 1808.2 433.6 1810.1 434.7C1812.1 435.9 1814.1 437 1816.1 438.3C1818.1 439.5 1820 440.8 1822 442.1C1824 443.4 1826 444.8 1828 446.2C1829.9 447.7 1831.9 449.1 1833.9 450.7C1835.9 452.2 1837.9 453.7 1839.8 455.3C1841.8 456.9 1843.8 458.5 1845.8 460.1C1847.8 461.7 1849.8 463.4 1851.7 465C1853.7 466.7 1855.7 468.4 1857.7 470.1C1859.7 471.7 1861.6 473.4 1863.6 475.1C1865.6 476.8 1867.6 478.5 1869.6 480.1C1871.5 481.8 1873.5 483.4 1875.5 485.1C1877.5 486.7 1879.5 488.3 1881.4 489.9C1883.4 491.5 1885.4 493 1887.4 494.5C1889.4 496 1891.3 497.5 1893.3 498.9C1895.3 500.3 1897.3 501.7 1899.3 502.9C1901.2 504.1 1903.2 505.2 1905.2 506.2C1907.2 507.2 1909.2 508.1 1911.1 508.8C1913.1 509.5 1915.1 510.1 1917.1 510.5C1919.1 510.9 1921.1 511.1 1923 511.1C1925 511.1 1927 510.8 1929 510.4C1931 510 1932.9 509.4 1934.9 508.7C1936.9 508 1938.9 507.1 1940.9 506.1C1942.8 505.1 1945.8 503.4 1946.8 502.8" stroke="#91bb62" stroke-width="6.3"/>
<path d="M1714.8 328C1718.2 331.7 1727.9 342.8 1735.5 350C1743.1 357.2 1752.2 365 1760.5 371C1768.8 377 1777.2 382.1 1785.5 386C1793.8 389.9 1802.2 392.5 1810.5 394.5C1818.8 396.5 1829.2 396.9 1835.5 398C1841.8 399.1 1841.2 398.8 1848 401C1854.8 403.2 1868 408.7 1876.5 411C1885 413.3 1893.4 414.8 1899 415C1904.6 415.2 1906.7 414.6 1910 412C1913.3 409.4 1916.2 406.3 1919 399.5C1921.8 392.7 1924.7 380.4 1927 371C1929.3 361.6 1931.3 352.3 1933 343C1934.7 333.7 1935.8 324.4 1937 315C1938.2 305.6 1939.1 297.8 1940 286.5C1940.9 275.2 1942.1 253.6 1942.5 247L1942.5 612C1941.2 603.3 1937.6 576.2 1935 560C1932.4 543.8 1930.2 526.7 1927 515C1923.8 503.3 1920.7 497.2 1916 490C1911.3 482.8 1904.1 477 1899 472C1893.9 467 1889.8 463.5 1885.5 460C1881.2 456.5 1877.2 453.9 1873 451C1868.8 448.1 1866.8 446.2 1860.5 442.5C1854.2 438.8 1843.8 432.6 1835.5 429C1827.2 425.4 1818.8 423.5 1810.5 421C1802.2 418.5 1793.8 417.1 1785.5 414C1777.2 410.9 1768.8 407.5 1760.5 402.5C1752.2 397.5 1743.1 390.8 1735.5 384C1727.9 377.2 1718.2 365.7 1714.8 362Z" fill="#e0a839" fill-opacity="0.2" stroke="none"/>
<path d="M1711.8 344.2C1712.8 345.2 1715.8 348.2 1717.8 350.2C1719.8 352.2 1721.8 354.2 1723.8 356.1C1725.8 358 1727.8 359.9 1729.8 361.8C1731.8 363.6 1733.8 365.5 1735.9 367.3C1737.9 369 1739.9 370.8 1741.9 372.5C1743.9 374.2 1745.9 375.8 1747.9 377.4C1749.9 379 1751.9 380.5 1753.9 382C1755.9 383.5 1758 384.9 1760 386.3C1762 387.6 1764 388.9 1766 390.1C1768 391.3 1770 392.5 1772 393.5C1774 394.6 1776 395.6 1778 396.5C1780.1 397.4 1782.1 398.2 1784.1 399C1786.1 399.8 1788.1 400.5 1790.1 401.2C1792.1 401.9 1794.1 402.5 1796.1 403.2C1798.1 403.8 1800.1 404.3 1802.2 404.9C1804.2 405.5 1806.2 406 1808.2 406.6C1810.2 407.1 1812.2 407.7 1814.2 408.2C1816.2 408.8 1818.2 409.3 1820.2 409.9C1822.2 410.5 1824.3 411.1 1826.3 411.7C1828.3 412.3 1830.3 413 1832.3 413.7C1834.3 414.5 1836.3 415.2 1838.3 416C1840.3 416.9 1842.3 417.7 1844.3 418.6C1846.4 419.5 1848.4 420.5 1850.4 421.5C1852.4 422.4 1854.4 423.4 1856.4 424.5C1858.4 425.5 1860.4 426.5 1862.4 427.6C1864.4 428.6 1866.4 429.6 1868.5 430.7C1870.5 431.7 1872.5 432.8 1874.5 433.8C1876.5 434.8 1878.5 435.8 1880.5 436.8C1882.5 437.7 1884.5 438.7 1886.5 439.6C1888.5 440.5 1890.5 441.4 1892.6 442.2C1894.6 443 1896.6 443.8 1898.6 444.5C1900.6 445.2 1902.6 445.9 1904.6 446.4C1906.6 446.9 1908.6 447.4 1910.6 447.8C1912.6 448.1 1914.7 448.3 1916.7 448.4C1918.7 448.4 1920.7 448.3 1922.7 448C1924.7 447.7 1926.7 447.3 1928.7 446.6C1930.7 445.9 1932.7 445 1934.7 443.9C1936.8 442.7 1938.8 441.3 1940.8 439.6C1942.8 438 1945.8 434.7 1946.8 433.8" stroke="#e0a839" stroke-width="6.3"/>
<path d="M1427.5 352.4C1428.5 352.5 1431.5 352.8 1433.5 353.2C1435.5 353.5 1437.5 354 1439.5 354.6C1441.5 355.2 1443.5 355.9 1445.5 356.7C1447.5 357.4 1449.5 358.3 1451.5 359.3C1453.5 360.2 1455.5 361.2 1457.5 362.3C1459.5 363.5 1461.5 364.7 1463.5 366C1465.5 367.3 1467.5 368.7 1469.5 370.1C1471.5 371.6 1473.5 373.1 1475.5 374.5C1477.5 376 1479.5 377.6 1481.5 379.1C1483.5 380.6 1485.5 382.1 1487.5 383.6C1489.5 385 1491.5 386.4 1493.5 387.7C1495.5 389.1 1497.5 390.5 1499.5 391.9C1501.5 393.2 1503.5 394.6 1505.5 396C1507.5 397.3 1509.5 398.6 1511.5 400C1513.5 401.3 1515.5 402.6 1517.5 403.9C1519.5 405.1 1521.5 406.4 1523.5 407.6C1525.5 408.9 1527.5 410.1 1529.5 411.3C1531.5 412.5 1533.5 413.6 1535.5 414.7C1537.5 415.9 1539.5 417 1541.5 418C1543.5 419.1 1545.5 420.1 1547.5 421.1C1549.5 422.1 1551.5 423 1553.5 424C1555.5 424.9 1557.5 425.8 1559.5 426.6C1561.5 427.4 1563.5 428.2 1565.5 428.9C1567.5 429.6 1569.5 430.2 1571.5 430.8C1573.5 431.4 1575.5 432 1577.5 432.5C1579.5 433.1 1581.5 433.6 1583.5 434C1585.5 434.5 1587.5 434.9 1589.5 435.2C1591.5 435.6 1593.5 435.9 1595.5 436.2C1597.5 436.5 1599.5 436.7 1601.5 436.9C1603.5 437.1 1605.5 437.2 1607.5 437.4C1609.5 437.5 1611.5 437.6 1613.5 437.6C1615.5 437.7 1617.5 437.7 1619.5 437.7C1621.5 437.8 1623.5 437.7 1625.5 437.7C1627.5 437.7 1629.5 437.7 1631.5 437.7C1633.5 437.6 1635.5 437.6 1637.5 437.6C1639.5 437.6 1641.5 437.6 1643.5 437.6C1645.5 437.6 1647.5 437.6 1649.5 437.6C1651.5 437.7 1653.5 437.7 1655.5 437.8C1657.5 437.9 1659.5 438 1661.5 438.1C1663.5 438.2 1665.5 438.3 1667.5 438.5C1669.5 438.7 1671.5 438.9 1673.5 439.1C1675.5 439.3 1677.5 439.6 1679.5 439.8C1681.5 440.1 1683.5 440.4 1685.5 440.8C1687.5 441.1 1689.5 441.5 1691.5 441.9C1693.5 442.3 1695.5 442.8 1697.5 443.2C1699.5 443.7 1701.5 444.3 1703.5 444.8C1705.5 445.4 1707.5 446 1709.5 446.7C1711.5 447.3 1713.5 448 1715.5 448.8C1717.5 449.6 1719.5 450.4 1721.5 451.2C1723.5 452 1725.5 452.9 1727.5 453.8C1729.5 454.7 1731.5 455.6 1733.5 456.5C1735.5 457.5 1737.5 458.5 1739.5 459.4C1741.5 460.4 1743.5 461.4 1745.5 462.4C1747.5 463.4 1749.5 464.4 1751.5 465.4C1753.5 466.4 1755.5 467.4 1757.5 468.4C1759.5 469.4 1761.5 470.4 1763.5 471.4C1765.5 472.3 1767.5 473.3 1769.5 474.2C1771.5 475.2 1773.5 476.1 1775.5 477C1777.5 477.9 1779.5 478.8 1781.5 479.7C1783.5 480.5 1785.5 481.4 1787.5 482.2C1789.5 483.1 1791.8 484 1793.5 484.7C1795.2 485.4 1793.6 484.5 1798 486.5C1802.4 488.6 1811.7 493.7 1820 497C1828.3 500.3 1838.6 502.4 1848 506.4C1857.4 510.4 1868 516.9 1876.5 521C1885 525.1 1892.4 529.3 1899 531C1905.6 532.7 1911.2 533.7 1916 531C1920.8 528.3 1924.7 525.2 1928 515C1931.3 504.8 1933.6 489.2 1936 470C1938.4 450.8 1941.4 411.7 1942.5 400L1942.5 638C1940.9 635.6 1937.4 630.7 1933 623.6C1928.6 616.5 1921.7 603.4 1916 595.4C1910.3 587.4 1905.6 582.9 1899 575.6C1892.4 568.3 1885 559.1 1876.5 551.6C1868 544.1 1857.4 536 1848 530.4C1838.6 524.8 1828.3 521.7 1820 517.7C1811.7 513.7 1802.4 508.7 1798 506.5C1793.6 504.4 1795.2 505.5 1793.5 504.8C1791.8 504.1 1789.5 503.3 1787.5 502.5C1785.5 501.7 1783.5 500.9 1781.5 500.1C1779.5 499.2 1777.5 498.4 1775.5 497.5C1773.5 496.7 1771.5 495.8 1769.5 494.9C1767.5 494 1765.5 493.1 1763.5 492.2C1761.5 491.2 1759.5 490.3 1757.5 489.3C1755.5 488.4 1753.5 487.4 1751.5 486.5C1749.5 485.5 1747.5 484.5 1745.5 483.6C1743.5 482.6 1741.5 481.7 1739.5 480.8C1737.5 479.8 1735.5 478.9 1733.5 478C1731.5 477.1 1729.5 476.3 1727.5 475.4C1725.5 474.6 1723.5 473.7 1721.5 473C1719.5 472.2 1717.5 471.4 1715.5 470.7C1713.5 470 1711.5 469.3 1709.5 468.7C1707.5 468 1705.5 467.4 1703.5 466.8C1701.5 466.3 1699.5 465.7 1697.5 465.2C1695.5 464.8 1693.5 464.3 1691.5 463.9C1689.5 463.5 1687.5 463.1 1685.5 462.8C1683.5 462.4 1681.5 462.1 1679.5 461.8C1677.5 461.6 1675.5 461.3 1673.5 461.1C1671.5 460.9 1669.5 460.7 1667.5 460.5C1665.5 460.3 1663.5 460.2 1661.5 460.1C1659.5 460 1657.5 459.9 1655.5 459.8C1653.5 459.7 1651.5 459.7 1649.5 459.6C1647.5 459.6 1645.5 459.6 1643.5 459.6C1641.5 459.6 1639.5 459.6 1637.5 459.6C1635.5 459.6 1633.5 459.6 1631.5 459.5C1629.5 459.5 1627.5 459.5 1625.5 459.5C1623.5 459.4 1621.5 459.4 1619.5 459.3C1617.5 459.2 1615.5 459.1 1613.5 459C1611.5 458.9 1609.5 458.8 1607.5 458.6C1605.5 458.4 1603.5 458.2 1601.5 458C1599.5 457.7 1597.5 457.5 1595.5 457.1C1593.5 456.8 1591.5 456.4 1589.5 456C1587.5 455.6 1585.5 455.1 1583.5 454.6C1581.5 454.1 1579.5 453.6 1577.5 453C1575.5 452.4 1573.5 451.8 1571.5 451.1C1569.5 450.4 1567.5 449.7 1565.5 449C1563.5 448.2 1561.5 447.5 1559.5 446.7C1557.5 445.9 1555.5 445.2 1553.5 444.4C1551.5 443.6 1549.5 442.7 1547.5 441.8C1545.5 440.9 1543.5 440 1541.5 439.1C1539.5 438.1 1537.5 437.1 1535.5 436.1C1533.5 435.1 1531.5 434 1529.5 433C1527.5 431.9 1525.5 430.8 1523.5 429.6C1521.5 428.5 1519.5 427.4 1517.5 426.2C1515.5 425 1513.5 423.8 1511.5 422.6C1509.5 421.4 1507.5 420.2 1505.5 418.9C1503.5 417.7 1501.5 416.4 1499.5 415.1C1497.5 413.9 1495.5 412.6 1493.5 411.3C1491.5 410.1 1489.5 408.7 1487.5 407.5C1485.5 406.3 1483.5 405.1 1481.5 404C1479.5 402.8 1477.5 401.7 1475.5 400.6C1473.5 399.6 1471.5 398.5 1469.5 397.4C1467.5 396.4 1465.5 395.5 1463.5 394.5C1461.5 393.5 1459.5 392.5 1457.5 391.6C1455.5 390.6 1453.5 389.7 1451.5 388.8C1449.5 388 1447.5 387.3 1445.5 386.6C1443.5 385.9 1441.5 385.3 1439.5 384.9C1437.5 384.4 1435.5 384 1433.5 383.8C1431.5 383.6 1428.5 383.5 1427.5 383.4Z" fill="#dc2c22" fill-opacity="0.2" stroke="none"/>
<path d="M1424.8 367.8C1425.8 367.9 1428.8 367.8 1430.8 368C1432.8 368.2 1434.8 368.6 1436.8 369C1438.8 369.4 1440.8 370 1442.8 370.6C1444.8 371.3 1446.8 372 1448.8 372.8C1450.8 373.6 1452.8 374.6 1454.8 375.5C1456.8 376.5 1458.8 377.6 1460.8 378.6C1462.8 379.7 1464.8 380.9 1466.8 382.1C1468.8 383.3 1470.8 384.6 1472.8 385.8C1474.8 387.1 1476.8 388.4 1478.8 389.7C1480.8 391 1482.8 392.4 1484.8 393.7C1486.8 395 1488.8 396.4 1490.8 397.7C1492.8 399.1 1494.8 400.4 1496.8 401.7C1498.8 403 1500.8 404.4 1502.8 405.7C1504.8 407 1506.8 408.3 1508.8 409.6C1510.8 410.8 1512.8 412.1 1514.8 413.4C1516.8 414.6 1518.8 415.8 1520.8 417C1522.8 418.3 1524.8 419.4 1526.8 420.6C1528.8 421.8 1530.8 422.9 1532.8 424C1534.8 425.1 1536.8 426.2 1538.8 427.2C1540.8 428.2 1542.8 429.2 1544.8 430.2C1546.8 431.2 1548.8 432.1 1550.8 433C1552.8 433.9 1554.8 434.8 1556.8 435.6C1558.8 436.4 1560.8 437.2 1562.8 438C1564.8 438.7 1566.8 439.4 1568.8 440.1C1570.8 440.8 1572.8 441.4 1574.8 442C1576.8 442.6 1578.8 443.2 1580.8 443.7C1582.8 444.2 1584.8 444.7 1586.8 445.1C1588.8 445.5 1590.8 445.9 1592.8 446.3C1594.8 446.6 1596.8 446.9 1598.8 447.2C1600.8 447.4 1602.8 447.6 1604.8 447.8C1606.8 448 1608.8 448.1 1610.8 448.2C1612.8 448.3 1614.8 448.4 1616.8 448.5C1618.8 448.5 1620.8 448.6 1622.8 448.6C1624.8 448.6 1626.8 448.6 1628.8 448.6C1630.8 448.6 1632.8 448.6 1634.9 448.6C1636.9 448.6 1638.9 448.6 1640.9 448.6C1642.9 448.6 1644.9 448.6 1646.9 448.6C1648.9 448.6 1650.9 448.6 1652.9 448.7C1654.9 448.8 1656.9 448.8 1658.9 448.9C1660.9 449 1662.9 449.1 1664.9 449.3C1666.9 449.4 1668.9 449.6 1670.9 449.8C1672.9 450 1674.9 450.2 1676.9 450.5C1678.9 450.7 1680.9 451 1682.9 451.3C1684.9 451.6 1686.9 452 1688.9 452.3C1690.9 452.7 1692.9 453.1 1694.9 453.6C1696.9 454.1 1698.9 454.5 1700.9 455.1C1702.9 455.6 1704.9 456.2 1706.9 456.8C1708.9 457.4 1710.9 458.1 1712.9 458.8C1714.9 459.5 1716.9 460.2 1718.9 461C1720.9 461.8 1722.9 462.6 1724.9 463.5C1726.9 464.3 1728.9 465.2 1730.9 466.1C1732.9 467 1734.9 467.9 1736.9 468.9C1738.9 469.8 1740.9 470.8 1742.9 471.7C1744.9 472.7 1746.9 473.7 1748.9 474.6C1750.9 475.6 1752.9 476.6 1754.9 477.6C1756.9 478.6 1758.9 479.6 1760.9 480.5C1762.9 481.5 1764.9 482.4 1766.9 483.4C1768.9 484.3 1770.9 485.2 1772.9 486.1C1774.9 487 1776.9 487.9 1778.9 488.8C1780.9 489.6 1782.9 490.5 1784.9 491.3C1786.9 492.1 1788.9 492.9 1790.9 493.7C1792.9 494.5 1794.9 495.3 1796.9 496.1C1798.9 496.9 1800.9 497.7 1802.9 498.4C1804.9 499.2 1806.9 500 1808.9 500.8C1810.9 501.5 1812.9 502.3 1814.9 503.1C1816.9 503.9 1818.9 504.7 1820.9 505.5C1822.9 506.3 1824.9 507.1 1826.9 507.9C1828.9 508.7 1830.9 509.6 1832.9 510.5C1834.9 511.3 1836.9 512.2 1838.9 513.1C1840.9 514 1843 514.9 1845 515.9C1847 516.9 1849 517.9 1851 518.9C1853 519.9 1855 521 1857 522.1C1859 523.1 1861 524.3 1863 525.4C1865 526.6 1867 527.8 1869 529.1C1871 530.3 1873 531.6 1875 533C1877 534.4 1879 535.8 1881 537.2C1883 538.6 1885 540.1 1887 541.6C1889 543.1 1891 544.6 1893 546C1895 547.4 1897 548.9 1899 550.3C1901 551.6 1903 553 1905 554.2C1907 555.5 1909 556.7 1911 557.7C1913 558.8 1915 559.8 1917 560.6C1919 561.4 1921 562.1 1923 562.7C1925 563.2 1927 563.6 1929 563.8C1931 564 1933 564 1935 563.8C1937 563.6 1939 563.2 1941 562.5C1943 561.8 1946 560.2 1947 559.7" stroke="#dc2c22" stroke-width="6.3"/>
<text transform="translate(1282.2 533.2) scale(0.997 1)" font-size="43" text-anchor="end" fill="#000" stroke="none">0.9</text>
</g>
<g id="right-axes" stroke="#666666" stroke-width="1.9" fill="none">
<path d="M1254.3 207.5V705H2017.5"/>
<path d="M1254.3 209.2h9.3"/>
<path d="M1254.3 229h5.6"/>
<path d="M1254.3 248.9h5.6"/>
<path d="M1254.3 268.7h5.6"/>
<path d="M1254.3 288.5h5.6"/>
<path d="M1254.3 308.3h9.3"/>
<path d="M1254.3 328.2h5.6"/>
<path d="M1254.3 348h5.6"/>
<path d="M1254.3 367.8h5.6"/>
<path d="M1254.3 387.7h5.6"/>
<path d="M1254.3 407.5h9.3"/>
<path d="M1254.3 427.3h5.6"/>
<path d="M1254.3 447.2h5.6"/>
<path d="M1254.3 467h5.6"/>
<path d="M1254.3 486.8h5.6"/>
<path d="M1254.3 506.6h9.3"/>
<path d="M1254.3 526.5h5.6"/>
<path d="M1254.3 546.3h5.6"/>
<path d="M1254.3 566.1h5.6"/>
<path d="M1254.3 586h5.6"/>
<path d="M1254.3 605.8h9.3"/>
<path d="M1254.3 625.6h5.6"/>
<path d="M1254.3 645.5h5.6"/>
<path d="M1254.3 665.3h5.6"/>
<path d="M1254.3 685.1h5.6"/>
<path d="M1388 705v-10.8"/>
<path d="M1541.8 705v-10.8"/>
<path d="M1690.2 705v-10.8"/>
<path d="M1843.6 705v-10.8"/>
<path d="M1992 705v-10.8"/>
</g>
<g id="right-labels" fill="#666666">
<text transform="translate(1240.3 219.8) scale(0.94 1)" font-size="44" text-anchor="end">2.5</text>
<text transform="translate(1240.3 319) scale(0.94 1)" font-size="44" text-anchor="end">2.0</text>
<text transform="translate(1240.3 418.1) scale(0.94 1)" font-size="44" text-anchor="end">1.5</text>
<text transform="translate(1240.3 517.2) scale(0.94 1)" font-size="44" text-anchor="end">1.0</text>
<text transform="translate(1240.3 616.4) scale(0.94 1)" font-size="44" text-anchor="end">0.5</text>
<text transform="translate(1240.3 715.6) scale(0.94 1)" font-size="44" text-anchor="end">0.0</text>
<text transform="translate(1385.5 755.9) scale(0.94 1)" font-size="44" text-anchor="middle">Mar 1</text>
<text transform="translate(1539.3 755.9) scale(0.94 1)" font-size="44" text-anchor="middle">Apr 1</text>
<text transform="translate(1687.7 755.9) scale(0.94 1)" font-size="44" text-anchor="middle">May 1</text>
<text transform="translate(1841.1 755.9) scale(0.94 1)" font-size="44" text-anchor="middle">Jun 1</text>
<text transform="translate(1989.5 755.9) scale(0.94 1)" font-size="44" text-anchor="middle">Jul 1</text>
<text transform="translate(1141 455.5) rotate(-90) scale(0.94 1)" font-size="44" text-anchor="middle">Rt</text>
</g>
<text transform="translate(1278 247.2) scale(0.967 1)" font-size="51.2" font-weight="bold" fill="#000">USA</text>
<g id="end-labels" fill="#000">
<text transform="translate(1719.2 574.2) scale(0.997 1)" font-size="43">0.7</text>
<text transform="translate(1947.8 447.6) scale(0.997 1)" font-size="43">1.4</text>
<text transform="translate(1947.8 515.4) scale(0.997 1)" font-size="43">1.0</text>
<text transform="translate(1947 540.8) scale(0.997 1)" font-size="43">0.9</text>
<text transform="translate(1947 573) scale(0.997 1)" font-size="43">0.7</text>
</g>
</svg></body></html>
